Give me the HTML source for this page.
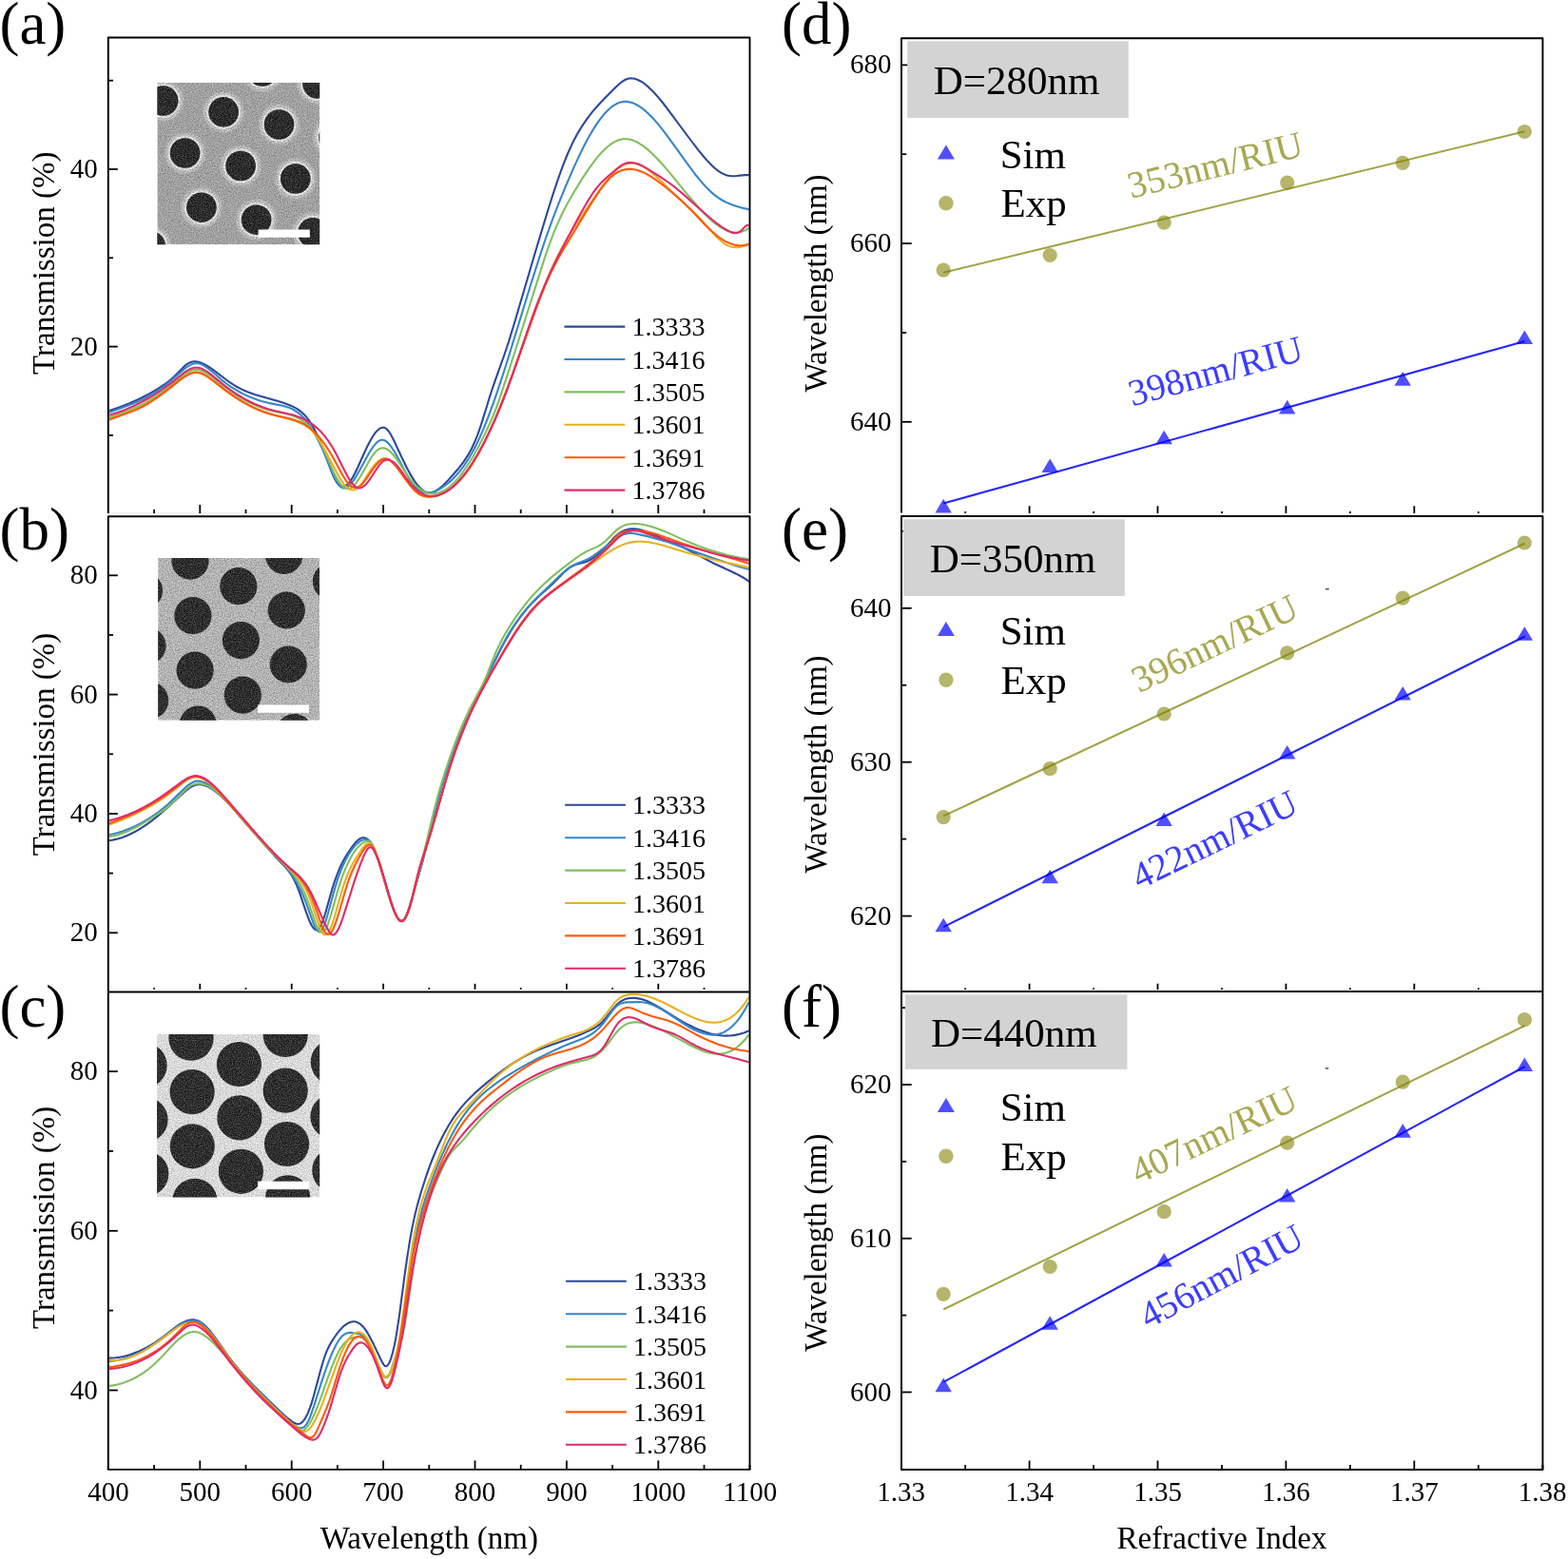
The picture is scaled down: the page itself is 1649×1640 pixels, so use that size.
<!DOCTYPE html>
<html><head><meta charset="utf-8"><title>Figure</title>
<style>html,body{margin:0;padding:0;background:#fff;}svg{display:block;}</style>
</head><body>
<svg xmlns="http://www.w3.org/2000/svg" width="1649" height="1640" viewBox="0 0 1649 1640" font-family="'Liberation Serif','Times New Roman',serif">
<defs>
<filter id="grain" x="0" y="0" width="100%" height="100%">
 <feTurbulence type="fractalNoise" baseFrequency="0.85" numOctaves="2" seed="3" result="n"/>
 <feColorMatrix in="n" type="matrix" values="0 0 0 0 0  0 0 0 0 0  0 0 0 0 0  0 0 0 1.3 -0.35" result="a"/>
 <feComposite in="a" in2="SourceGraphic" operator="in"/>
</filter>
<filter id="grainw" x="0" y="0" width="100%" height="100%">
 <feTurbulence type="fractalNoise" baseFrequency="0.9" numOctaves="2" seed="7" result="n"/>
 <feColorMatrix in="n" type="matrix" values="0 0 0 0 1  0 0 0 0 1  0 0 0 0 1  0 0 0 1.3 -0.45" result="a"/>
 <feComposite in="a" in2="SourceGraphic" operator="in"/>
</filter>
<filter id="soft" x="-20%" y="-20%" width="140%" height="140%"><feGaussianBlur stdDeviation="0.7"/></filter>
<filter id="halo" x="-30%" y="-30%" width="160%" height="160%"><feGaussianBlur stdDeviation="1.2"/></filter>

<clipPath id="ic0"><rect x="165.4" y="87.0" width="170.8" height="170.3"/></clipPath>
<clipPath id="ic1"><rect x="166.2" y="587.0" width="169.8" height="170.7"/></clipPath>
<clipPath id="ic2"><rect x="165.1" y="1088.1" width="171.1" height="171.3"/></clipPath>
<clipPath id="clipL0"><rect x="114.8" y="40.4" width="673" height="499"/></clipPath>
<clipPath id="clipL1"><rect x="114.8" y="544.2" width="673" height="498.5"/></clipPath>
<clipPath id="clipL2"><rect x="114.8" y="1044.4" width="673" height="500.1"/></clipPath>
</defs>
<rect width="1649" height="1640" fill="#fff"/>
<line x1="113.8" y1="539.7" x2="788.5" y2="539.7" stroke="#eeeeee" stroke-width="1" />
<g clip-path="url(#clipL0)" fill="none" stroke-width="2.1" stroke-linejoin="round" stroke-linecap="round">
<path d="M113.8,432.5 L125.3,428.5 L136.3,424.2 L146.3,419.7 L156.3,414.6 L162.3,411.2 L167.8,407.8 L172.8,404.5 L176.8,401.6 L180.3,398.7 L183.3,396.0 L193.3,385.9 L195.3,384.1 L197.3,382.7 L199.8,381.3 L201.3,380.8 L202.8,380.4 L204.3,380.3 L205.8,380.3 L208.8,380.8 L211.3,381.6 L213.8,382.6 L216.3,383.9 L219.3,385.7 L225.3,389.9 L237.3,399.0 L242.3,402.7 L247.8,406.2 L253.8,409.4 L260.3,412.2 L267.8,415.0 L274.8,417.1 L293.3,422.3 L298.8,424.1 L303.3,425.7 L307.3,427.4 L310.8,429.1 L314.3,431.4 L317.3,433.7 L320.8,437.1 L324.3,441.4 L327.8,446.6 L330.8,451.9 L334.3,459.2 L337.8,467.4 L341.3,476.4 L348.3,495.2 L350.8,501.3 L352.8,505.2 L354.3,507.5 L355.8,509.3 L356.8,510.3 L357.8,511.0 L358.8,511.4 L360.3,511.7 L361.3,511.7 L362.8,511.3 L363.8,510.8 L365.3,509.6 L366.8,508.1 L368.3,506.3 L370.8,502.4 L373.3,497.8 L376.3,491.5 L382.8,477.0 L385.8,470.6 L388.8,464.7 L391.8,459.5 L394.8,455.2 L396.3,453.4 L397.8,452.0 L399.3,450.8 L400.8,450.1 L402.3,449.8 L403.3,449.8 L404.3,450.0 L405.3,450.4 L406.8,451.5 L408.8,453.7 L410.8,456.8 L414.3,463.5 L422.8,481.8 L428.3,493.0 L430.8,497.6 L433.3,501.9 L435.8,505.9 L438.3,509.4 L440.8,512.3 L442.8,514.3 L444.8,515.9 L446.8,517.1 L448.8,517.9 L451.3,518.2 L453.3,518.1 L455.8,517.5 L457.8,516.6 L460.3,515.1 L462.8,513.3 L465.8,510.7 L468.8,507.8 L471.8,504.6 L478.3,497.3 L482.3,492.7 L487.3,486.2 L491.8,479.4 L495.8,472.2 L499.3,464.7 L502.3,457.3 L504.8,450.2 L507.8,440.9 L514.3,419.7 L517.3,410.3 L520.8,400.1 L530.3,373.5 L534.8,360.0 L541.3,338.8 L562.8,265.7 L575.3,224.3 L580.3,208.3 L584.8,194.6 L588.8,183.0 L592.8,172.1 L597.3,161.0 L602.3,150.1 L607.3,140.6 L612.3,132.3 L617.8,124.3 L623.8,116.6 L630.8,108.7 L638.8,100.4 L647.3,92.0 L651.3,88.3 L654.8,85.5 L656.8,84.3 L658.3,83.5 L659.8,83.0 L661.8,82.5 L663.3,82.4 L665.3,82.5 L667.3,82.8 L669.3,83.4 L671.3,84.2 L673.3,85.2 L677.3,87.7 L681.8,91.4 L686.8,96.3 L691.8,101.9 L697.3,108.5 L703.3,116.3 L725.3,146.0 L734.8,158.4 L739.8,164.5 L744.3,169.6 L748.3,173.7 L751.8,177.0 L755.8,180.1 L759.3,182.3 L762.8,183.9 L765.8,184.8 L768.8,185.2 L771.8,185.2 L774.8,185.0 L783.3,184.1 L785.8,184.0 L788.0,184.1" stroke="#2c489a"/>
<path d="M113.8,434.3 L130.8,428.1 L139.3,424.7 L147.8,421.0 L155.3,417.2 L160.3,414.3 L164.8,411.5 L169.3,408.5 L173.8,405.3 L177.8,402.2 L181.8,398.8 L193.3,388.6 L195.8,386.6 L197.8,385.3 L200.8,383.6 L203.8,382.5 L206.3,382.1 L207.8,382.2 L209.3,382.5 L211.3,383.0 L213.3,383.9 L215.3,385.0 L217.3,386.3 L221.8,389.8 L232.8,399.3 L238.8,404.0 L242.8,406.8 L247.3,409.7 L251.3,412.0 L255.8,414.4 L260.3,416.5 L265.3,418.6 L269.8,420.3 L274.8,421.9 L283.3,424.1 L297.3,426.8 L302.8,428.4 L306.3,429.8 L309.3,431.3 L312.3,433.3 L315.3,435.6 L317.3,437.5 L319.3,439.5 L322.8,443.7 L326.8,449.4 L330.8,456.0 L334.8,463.5 L339.3,472.9 L343.3,482.2 L349.8,498.4 L352.3,503.8 L354.3,507.4 L355.8,509.6 L357.8,511.7 L359.3,512.8 L360.3,513.2 L361.3,513.4 L362.3,513.4 L363.8,513.0 L364.8,512.6 L366.3,511.6 L367.8,510.2 L369.3,508.6 L372.3,504.6 L375.3,499.8 L378.3,494.5 L387.3,478.0 L389.8,473.8 L392.3,470.1 L395.3,466.4 L397.8,464.2 L399.3,463.3 L400.3,463.0 L401.3,462.8 L402.3,462.7 L403.3,462.9 L404.3,463.2 L405.3,463.7 L406.8,464.8 L409.3,467.3 L411.8,470.5 L414.3,474.3 L416.8,478.5 L426.3,496.3 L430.3,503.3 L433.8,508.6 L435.8,511.2 L437.3,512.8 L439.3,514.6 L441.3,516.1 L443.3,517.2 L445.8,518.0 L448.3,518.5 L450.8,518.5 L453.3,518.2 L455.8,517.5 L458.8,516.4 L461.8,514.8 L465.3,512.7 L468.8,510.2 L472.3,507.4 L475.3,504.7 L478.8,501.1 L481.8,497.8 L484.8,494.1 L487.8,490.1 L490.8,485.6 L493.3,481.7 L496.3,476.5 L498.8,471.9 L501.8,466.0 L504.3,460.7 L508.8,450.3 L513.8,437.7 L518.8,424.1 L523.8,409.6 L528.8,394.5 L534.8,375.6 L556.8,303.8 L566.8,272.1 L572.3,255.5 L577.3,241.1 L581.8,228.8 L586.8,215.8 L594.8,196.1 L602.8,177.6 L609.8,162.4 L613.3,155.3 L616.8,148.6 L620.3,142.2 L623.3,137.1 L626.3,132.4 L629.3,127.9 L632.3,123.9 L635.3,120.2 L638.3,116.9 L640.8,114.5 L644.8,111.3 L646.8,110.1 L648.8,109.0 L650.8,108.1 L652.8,107.5 L654.8,107.1 L656.8,106.9 L658.8,106.9 L660.8,107.2 L662.8,107.6 L665.3,108.3 L667.3,109.1 L669.8,110.3 L674.3,113.2 L678.8,116.7 L683.3,120.9 L687.8,125.6 L692.8,131.4 L697.3,137.1 L702.8,144.3 L722.8,172.2 L730.8,183.0 L735.3,188.6 L739.3,193.3 L743.3,197.6 L746.8,201.1 L750.8,204.6 L754.8,207.7 L759.3,210.5 L763.8,212.9 L768.8,215.0 L773.8,216.7 L779.8,218.4 L788.0,220.4" stroke="#3686c8"/>
<path d="M113.8,439.6 L119.3,437.5 L138.8,430.3 L145.3,427.6 L150.8,424.9 L154.8,422.7 L159.3,420.0 L163.8,417.1 L168.8,413.6 L178.3,406.5 L191.8,395.5 L194.3,393.7 L196.8,392.0 L200.3,390.2 L202.3,389.5 L203.8,389.1 L205.3,388.9 L206.8,388.8 L209.8,389.2 L211.8,389.8 L213.8,390.7 L215.8,391.7 L218.3,393.3 L222.8,396.5 L235.3,406.5 L242.8,412.0 L247.8,415.3 L252.3,418.1 L257.3,420.9 L261.8,423.3 L266.3,425.4 L270.8,427.3 L275.3,429.0 L279.8,430.5 L286.8,432.4 L301.3,435.3 L304.8,436.3 L307.8,437.3 L311.3,438.7 L314.8,440.5 L317.8,442.3 L320.8,444.6 L324.3,447.7 L327.8,451.4 L331.3,456.0 L334.3,460.5 L337.3,465.9 L339.8,470.9 L349.8,494.3 L351.8,498.6 L353.8,502.4 L356.3,506.6 L358.3,509.4 L360.8,512.0 L362.8,513.3 L364.3,513.9 L365.3,514.1 L366.3,514.1 L367.3,513.9 L368.3,513.6 L369.8,512.7 L372.3,510.6 L374.8,507.6 L377.8,503.3 L380.8,498.3 L388.8,484.0 L391.3,480.0 L393.3,477.2 L395.8,474.4 L397.8,472.8 L398.8,472.2 L400.3,471.6 L401.3,471.4 L402.8,471.3 L403.8,471.4 L405.3,471.8 L407.8,473.0 L410.3,474.9 L412.8,477.5 L415.3,480.5 L418.3,484.6 L427.8,498.9 L431.8,504.5 L435.8,509.2 L437.8,511.3 L440.3,513.4 L442.8,515.3 L445.3,516.8 L447.8,517.9 L450.8,518.8 L453.3,519.2 L455.8,519.3 L458.3,519.1 L461.3,518.4 L463.8,517.5 L466.8,516.1 L469.8,514.3 L472.8,512.0 L475.3,509.8 L478.3,506.9 L481.3,503.6 L484.3,500.0 L487.3,496.0 L490.3,491.7 L496.3,482.2 L502.8,470.7 L509.3,457.9 L514.3,447.3 L518.3,438.2 L521.8,429.4 L525.3,419.7 L530.3,404.7 L542.8,366.0 L572.3,272.9 L575.8,262.5 L578.8,254.1 L581.8,246.2 L584.8,238.9 L590.3,226.7 L593.3,220.6 L596.8,214.0 L603.8,201.7 L612.3,187.9 L619.8,176.7 L626.3,167.9 L629.8,163.6 L632.8,160.3 L635.8,157.2 L638.8,154.5 L642.8,151.4 L646.8,148.9 L648.8,148.0 L650.8,147.2 L652.8,146.7 L654.8,146.3 L656.8,146.2 L658.8,146.2 L660.8,146.4 L662.8,146.8 L666.8,148.1 L668.8,149.0 L671.3,150.3 L675.8,153.1 L680.3,156.6 L685.3,161.0 L690.8,166.5 L696.3,172.5 L702.3,179.4 L724.8,206.8 L734.3,217.8 L739.3,223.2 L744.3,228.3 L748.8,232.4 L752.8,235.7 L757.8,239.2 L762.3,241.7 L764.8,242.8 L766.8,243.5 L769.3,244.1 L771.3,244.4 L773.8,244.6 L775.8,244.5 L777.8,244.3 L779.8,243.8 L781.8,243.1 L783.8,242.3 L785.8,241.2 L788.0,239.7" stroke="#80bf5e"/>
<path d="M113.8,441.5 L119.8,439.2 L138.8,432.3 L145.3,429.5 L150.8,426.8 L154.8,424.7 L159.3,422.0 L163.8,419.1 L168.3,416.0 L177.8,409.0 L191.3,398.2 L193.8,396.3 L196.3,394.7 L199.8,392.9 L201.8,392.1 L203.3,391.7 L204.8,391.5 L206.3,391.4 L207.8,391.5 L209.3,391.7 L211.3,392.3 L213.3,393.2 L215.3,394.2 L217.8,395.7 L222.3,399.0 L234.8,409.1 L242.3,414.5 L246.8,417.5 L251.8,420.6 L256.8,423.5 L261.8,426.1 L266.3,428.3 L271.3,430.5 L275.8,432.3 L280.8,434.2 L288.3,436.5 L304.8,441.1 L312.3,443.6 L316.3,445.2 L319.8,446.9 L322.3,448.3 L324.8,450.1 L327.3,452.3 L330.3,455.7 L333.3,459.8 L336.3,464.4 L339.3,469.4 L342.3,474.8 L354.8,498.3 L357.3,502.7 L359.3,505.9 L361.3,508.8 L363.3,511.2 L365.3,513.2 L367.3,514.6 L369.3,515.4 L370.3,515.5 L371.8,515.5 L373.8,514.9 L374.8,514.4 L376.3,513.3 L378.3,511.3 L380.8,508.2 L383.3,504.6 L390.3,493.8 L392.8,490.4 L395.3,487.4 L397.8,485.0 L400.3,483.3 L401.8,482.7 L402.8,482.4 L404.8,482.3 L406.8,482.8 L409.3,484.0 L411.8,485.9 L414.3,488.4 L416.3,490.6 L418.8,493.8 L427.8,506.1 L431.8,511.3 L435.8,515.7 L437.8,517.6 L439.3,518.8 L441.3,520.1 L443.8,521.3 L445.8,521.9 L448.3,522.4 L450.8,522.5 L453.8,522.4 L456.8,522.0 L459.3,521.4 L462.3,520.5 L465.3,519.2 L468.3,517.7 L470.8,516.2 L473.8,514.1 L476.3,512.1 L479.3,509.4 L481.8,507.0 L484.8,503.8 L487.3,500.8 L490.3,497.0 L492.8,493.6 L498.3,485.3 L503.8,475.9 L509.3,465.5 L515.3,452.9 L521.3,439.2 L527.8,423.4 L534.3,406.6 L541.3,387.6 L561.3,330.7 L568.8,310.1 L572.8,299.7 L576.8,289.9 L580.3,281.9 L584.3,273.5 L590.3,261.9 L597.8,248.8 L605.8,236.0 L614.8,222.5 L629.8,201.1 L637.3,191.0 L640.8,186.7 L644.3,182.7 L647.3,179.7 L650.3,177.1 L653.8,174.7 L656.8,173.1 L659.8,172.2 L661.3,171.9 L663.3,171.7 L666.3,171.8 L669.8,172.6 L673.3,173.8 L677.3,175.9 L680.8,178.1 L684.8,181.1 L688.8,184.5 L693.3,188.6 L711.3,206.5 L726.8,220.7 L732.8,226.4 L738.8,232.7 L748.8,244.0 L752.8,248.4 L756.8,252.3 L760.8,255.5 L763.8,257.5 L766.8,258.9 L769.8,259.7 L772.8,260.1 L776.3,260.1 L779.8,259.6 L783.8,258.6 L788.0,257.1" stroke="#e6b120"/>
<path d="M113.8,441.9 L120.8,439.2 L133.8,434.6 L139.3,432.6 L144.8,430.2 L149.8,427.8 L153.3,425.9 L157.3,423.5 L165.8,417.8 L174.8,411.1 L189.8,399.3 L192.8,397.2 L195.3,395.6 L199.3,393.5 L201.3,392.7 L202.8,392.3 L205.8,391.9 L207.3,392.0 L209.3,392.3 L211.3,392.8 L213.8,393.8 L215.8,394.8 L218.3,396.3 L223.3,399.9 L236.8,410.4 L244.8,416.1 L249.8,419.4 L254.8,422.5 L259.8,425.4 L264.8,428.0 L269.3,430.1 L273.8,432.0 L278.3,433.8 L282.3,435.1 L289.3,437.0 L304.3,440.3 L307.8,441.2 L311.3,442.4 L314.8,443.7 L318.3,445.4 L321.8,447.5 L324.8,449.6 L328.8,452.8 L332.8,456.8 L336.8,461.3 L340.8,466.5 L344.8,472.3 L348.8,478.8 L352.3,485.0 L359.3,498.1 L362.8,504.0 L364.8,506.9 L366.8,509.3 L368.8,511.1 L370.3,512.1 L371.8,512.7 L372.8,512.9 L374.8,512.9 L376.8,512.3 L377.8,511.8 L379.3,510.7 L381.3,508.7 L383.8,505.7 L392.8,492.6 L395.3,489.4 L397.3,487.1 L399.8,484.8 L401.8,483.5 L403.8,482.7 L405.8,482.6 L407.8,483.0 L409.8,484.0 L411.8,485.5 L414.3,487.9 L416.3,490.2 L418.8,493.3 L427.8,505.9 L431.8,511.1 L435.8,515.6 L437.8,517.5 L439.8,519.0 L441.8,520.3 L444.3,521.4 L446.3,522.0 L448.8,522.4 L451.3,522.6 L454.3,522.4 L457.3,522.0 L459.8,521.4 L462.8,520.4 L465.3,519.3 L468.3,517.8 L470.8,516.3 L473.8,514.2 L476.3,512.2 L479.3,509.6 L481.8,507.1 L484.8,503.9 L487.3,501.0 L490.3,497.1 L492.8,493.7 L498.3,485.4 L503.8,476.0 L509.3,465.4 L515.3,452.8 L521.3,439.1 L527.3,424.5 L533.3,409.1 L540.3,390.3 L559.3,337.0 L566.3,318.0 L570.3,307.7 L573.8,299.1 L577.3,291.1 L580.3,284.7 L585.3,275.0 L591.8,263.5 L610.8,231.9 L624.8,209.3 L630.8,200.4 L635.8,193.7 L640.3,188.6 L642.8,186.1 L644.8,184.4 L646.8,182.9 L648.8,181.6 L650.8,180.5 L652.8,179.6 L654.8,178.9 L656.8,178.4 L658.8,178.1 L660.8,177.9 L664.8,177.9 L666.8,178.2 L669.3,178.7 L673.8,180.2 L678.8,182.4 L684.8,185.8 L691.8,190.6 L700.8,197.5 L709.8,204.9 L716.3,210.7 L722.8,216.9 L727.8,222.1 L740.3,235.3 L746.3,241.3 L752.3,246.6 L755.3,249.0 L758.3,251.1 L762.3,253.6 L766.3,255.6 L770.3,257.1 L773.8,257.9 L777.3,258.3 L780.8,258.2 L784.3,257.7 L788.0,256.5" stroke="#fd5a06"/>
<path d="M113.8,437.1 L122.8,434.2 L131.8,430.9 L140.3,427.2 L148.8,423.0 L154.3,420.0 L159.8,416.8 L165.3,413.4 L170.3,410.0 L179.8,403.1 L192.8,392.7 L197.3,389.6 L200.8,387.8 L203.8,386.9 L205.3,386.7 L206.8,386.7 L208.3,386.8 L209.8,387.1 L211.8,387.7 L213.8,388.6 L217.8,390.9 L222.8,394.6 L235.3,404.9 L242.8,410.5 L247.8,413.9 L252.8,417.0 L257.8,419.9 L262.8,422.5 L267.3,424.7 L272.3,426.8 L276.8,428.5 L281.8,430.2 L289.3,432.3 L305.8,436.0 L309.8,437.1 L313.8,438.5 L317.8,440.1 L321.8,442.0 L325.8,444.4 L329.3,446.9 L333.8,450.6 L337.8,454.6 L341.8,459.2 L345.3,463.9 L348.8,469.3 L352.3,475.3 L355.3,481.0 L362.8,495.9 L365.3,500.6 L367.3,504.0 L369.3,507.0 L371.3,509.6 L373.3,511.6 L375.3,512.9 L376.3,513.3 L377.3,513.5 L378.3,513.5 L379.3,513.3 L381.3,512.4 L383.3,510.9 L385.3,508.9 L387.8,505.8 L390.3,502.2 L396.8,492.1 L398.8,489.4 L400.3,487.6 L402.3,485.7 L404.3,484.4 L406.3,483.7 L408.3,483.6 L410.3,484.1 L412.3,485.1 L414.3,486.5 L416.3,488.4 L418.3,490.7 L420.8,493.8 L428.8,505.0 L432.3,509.6 L434.3,511.8 L436.3,513.8 L438.3,515.6 L440.3,517.1 L442.8,518.7 L445.3,520.0 L447.8,520.9 L450.3,521.5 L452.8,521.8 L455.8,521.7 L458.3,521.4 L461.3,520.7 L463.8,519.8 L466.8,518.5 L469.3,517.1 L472.3,515.1 L474.8,513.2 L477.8,510.6 L480.8,507.7 L483.8,504.5 L486.8,500.9 L489.8,497.1 L492.8,493.0 L495.8,488.5 L501.8,478.8 L507.8,468.1 L513.3,457.3 L518.8,445.6 L523.8,434.2 L528.8,421.9 L533.3,410.1 L537.8,397.6 L555.3,346.4 L562.3,326.7 L566.3,316.2 L570.8,305.1 L575.3,294.6 L579.8,284.6 L587.3,269.0 L595.8,252.4 L609.3,227.1 L617.3,212.9 L622.8,204.2 L625.3,200.6 L627.8,197.3 L630.3,194.3 L632.8,191.6 L638.3,186.5 L650.3,176.3 L653.3,174.1 L656.3,172.4 L659.3,171.4 L660.8,171.1 L662.8,171.0 L666.3,171.2 L668.3,171.7 L670.3,172.3 L672.8,173.2 L675.8,174.6 L682.3,178.3 L695.3,186.6 L705.3,193.5 L711.3,198.2 L717.8,203.6 L739.8,223.3 L748.8,231.0 L753.3,234.5 L757.8,237.8 L761.8,240.5 L765.8,242.8 L768.3,244.1 L770.8,244.9 L773.3,245.2 L775.3,245.0 L777.3,244.2 L778.8,243.2 L780.3,241.8 L783.3,238.6 L784.8,237.4 L786.3,236.7 L787.3,236.7 L788.0,237.0" stroke="#e22a6c"/>
</g>
<path d="M113.8,540.0 V39.5 H788.5 V540.0" fill="none" stroke="#000" stroke-width="1.9" stroke-linejoin="round"/>
<line x1="113.8" y1="364.6" x2="123.8" y2="364.6" stroke="#000" stroke-width="1.8" />
<text x="102.8" y="373.6" font-size="29" text-anchor="end" fill="#000" >20</text>
<line x1="113.8" y1="178.0" x2="123.8" y2="178.0" stroke="#000" stroke-width="1.8" />
<text x="102.8" y="187.0" font-size="29" text-anchor="end" fill="#000" >40</text>
<line x1="113.8" y1="457.9" x2="119.0" y2="457.9" stroke="#000" stroke-width="1.8" />
<line x1="113.8" y1="271.3" x2="119.0" y2="271.3" stroke="#000" stroke-width="1.8" />
<line x1="113.8" y1="84.7" x2="119.0" y2="84.7" stroke="#000" stroke-width="1.8" />
<line x1="162.1" y1="540.0" x2="162.1" y2="536.0" stroke="#000" stroke-width="1.8" />
<line x1="210.3" y1="540.0" x2="210.3" y2="531.0" stroke="#000" stroke-width="1.8" />
<line x1="258.5" y1="540.0" x2="258.5" y2="536.0" stroke="#000" stroke-width="1.8" />
<line x1="306.7" y1="540.0" x2="306.7" y2="531.0" stroke="#000" stroke-width="1.8" />
<line x1="354.9" y1="540.0" x2="354.9" y2="536.0" stroke="#000" stroke-width="1.8" />
<line x1="403.1" y1="540.0" x2="403.1" y2="531.0" stroke="#000" stroke-width="1.8" />
<line x1="451.3" y1="540.0" x2="451.3" y2="536.0" stroke="#000" stroke-width="1.8" />
<line x1="499.5" y1="540.0" x2="499.5" y2="531.0" stroke="#000" stroke-width="1.8" />
<line x1="547.7" y1="540.0" x2="547.7" y2="536.0" stroke="#000" stroke-width="1.8" />
<line x1="595.9" y1="540.0" x2="595.9" y2="531.0" stroke="#000" stroke-width="1.8" />
<line x1="644.1" y1="540.0" x2="644.1" y2="536.0" stroke="#000" stroke-width="1.8" />
<line x1="692.3" y1="540.0" x2="692.3" y2="531.0" stroke="#000" stroke-width="1.8" />
<line x1="740.5" y1="540.0" x2="740.5" y2="536.0" stroke="#000" stroke-width="1.8" />
<g clip-path="url(#clipL1)" fill="none" stroke-width="2.1" stroke-linejoin="round" stroke-linecap="round">
<path d="M114.4,884.1 L117.9,883.7 L121.9,882.9 L125.4,882.0 L129.4,880.7 L132.9,879.3 L136.9,877.5 L140.9,875.5 L144.9,873.3 L149.9,870.2 L154.9,866.8 L160.4,862.8 L165.9,858.4 L171.4,853.8 L176.9,848.9 L192.9,833.9 L195.9,831.4 L198.9,829.1 L200.9,827.9 L202.9,826.8 L204.9,826.0 L206.4,825.6 L208.4,825.3 L210.4,825.3 L212.4,825.5 L214.4,825.9 L216.9,826.8 L219.4,827.9 L222.4,829.6 L225.4,831.7 L228.4,834.0 L231.9,837.0 L235.4,840.2 L238.9,843.7 L243.9,848.9 L249.9,855.6 L271.4,880.7 L280.9,891.5 L289.4,900.9 L299.4,911.3 L303.4,916.1 L305.4,918.9 L307.4,922.0 L309.4,925.7 L311.4,929.8 L312.9,933.4 L314.9,938.6 L321.9,959.4 L324.9,967.4 L326.4,970.8 L327.9,973.7 L329.4,976.0 L330.9,977.5 L331.9,978.1 L332.9,978.3 L333.9,978.0 L334.9,977.3 L336.4,975.4 L337.4,973.6 L338.4,971.4 L339.9,967.6 L341.9,961.5 L349.4,935.1 L352.4,925.8 L354.4,920.3 L356.4,915.3 L358.4,910.8 L360.9,905.8 L363.4,901.3 L366.4,896.5 L369.9,891.4 L372.9,887.4 L375.4,884.7 L377.4,883.0 L379.4,881.8 L381.4,881.2 L382.9,881.2 L384.4,881.6 L385.9,882.4 L387.4,883.7 L388.9,885.4 L390.4,887.5 L391.9,890.1 L393.4,893.1 L395.9,899.1 L398.9,907.8 L401.4,915.9 L409.4,943.4 L411.9,951.2 L413.9,956.7 L416.4,962.5 L417.9,965.1 L418.9,966.5 L419.9,967.6 L420.9,968.3 L421.9,968.6 L422.9,968.5 L423.9,968.0 L424.9,967.0 L425.9,965.7 L426.9,963.9 L428.9,959.2 L431.4,951.8 L444.4,906.1 L447.9,892.3 L457.4,852.9 L460.4,841.4 L463.9,828.8 L468.4,813.9 L472.9,800.3 L477.9,786.5 L483.4,772.6 L489.9,757.7 L497.4,741.8 L523.4,689.0 L528.4,679.3 L532.4,671.9 L535.9,665.9 L539.9,659.5 L543.4,654.3 L547.4,648.8 L551.4,643.6 L555.4,638.9 L559.4,634.4 L563.9,629.9 L568.4,625.6 L580.4,614.9 L583.9,611.5 L592.9,602.3 L595.9,599.6 L598.4,597.6 L600.9,596.0 L603.9,594.5 L606.9,593.5 L613.9,591.7 L616.9,590.7 L619.9,589.4 L623.4,587.4 L627.4,584.6 L631.9,580.6 L635.9,576.5 L644.9,566.6 L647.4,564.1 L649.9,562.0 L652.9,559.9 L656.4,558.1 L659.9,557.0 L661.9,556.6 L663.9,556.3 L667.4,556.3 L670.9,556.7 L674.4,557.5 L678.4,558.7 L685.4,561.4 L710.4,572.1 L717.4,575.3 L723.9,578.5 L743.9,589.1 L750.9,592.7 L756.4,595.3 L768.9,601.0 L774.4,603.7 L781.4,607.5 L784.9,609.7 L788.0,611.9" stroke="#2c489a"/>
<path d="M114.4,878.3 L119.4,877.2 L123.9,876.0 L128.9,874.4 L133.4,872.8 L137.9,871.0 L142.4,869.0 L146.9,866.7 L151.4,864.2 L156.9,860.9 L161.9,857.6 L166.9,854.0 L171.9,850.0 L176.4,846.2 L180.9,842.1 L194.4,828.9 L196.9,826.7 L199.4,824.8 L201.4,823.6 L202.9,822.8 L204.4,822.2 L205.9,821.8 L207.4,821.6 L208.9,821.6 L210.4,821.8 L212.4,822.2 L214.4,822.9 L216.9,824.2 L219.4,825.7 L221.9,827.5 L227.4,832.0 L233.9,838.3 L241.9,846.9 L256.9,864.4 L262.9,871.1 L270.4,879.3 L293.4,903.9 L299.4,910.6 L303.4,915.5 L306.9,920.3 L309.9,924.8 L312.9,930.0 L315.9,935.7 L318.9,942.3 L321.4,948.4 L323.4,953.8 L327.9,966.7 L330.4,973.1 L331.9,976.2 L332.9,977.8 L333.9,979.1 L334.9,979.9 L335.9,980.2 L336.4,980.2 L337.4,979.7 L337.9,979.2 L339.4,976.8 L340.9,973.3 L342.4,969.1 L344.4,962.7 L351.9,935.5 L354.9,925.7 L356.9,919.9 L358.9,914.7 L360.9,910.0 L362.9,905.7 L365.4,901.0 L367.9,896.9 L370.4,893.3 L373.4,889.6 L375.9,887.1 L378.4,885.1 L380.9,883.8 L382.9,883.3 L384.4,883.2 L385.9,883.5 L387.4,884.1 L388.4,884.8 L389.4,885.7 L390.4,887.0 L391.4,888.5 L392.4,890.4 L394.9,896.3 L397.9,905.0 L400.9,914.7 L409.4,943.4 L411.9,951.1 L414.4,957.9 L416.9,963.5 L417.9,965.2 L418.9,966.7 L420.4,968.2 L421.4,968.7 L422.4,968.8 L423.4,968.6 L424.4,967.9 L425.4,966.8 L426.9,964.3 L428.9,959.6 L431.4,952.0 L444.9,904.3 L448.4,890.4 L457.4,853.0 L460.4,841.4 L463.9,828.8 L468.4,813.9 L472.9,800.2 L477.9,786.4 L482.9,773.7 L488.9,759.9 L495.4,746.0 L509.9,716.7 L524.4,686.6 L528.4,678.7 L532.4,671.3 L535.9,665.3 L539.4,659.7 L542.9,654.5 L546.9,649.0 L550.9,644.0 L554.9,639.2 L559.4,634.3 L563.9,629.6 L569.4,624.2 L590.4,604.0 L594.9,600.0 L598.4,597.3 L600.9,595.7 L603.9,594.1 L606.9,592.8 L615.9,589.2 L618.4,588.0 L620.9,586.6 L624.4,584.4 L628.4,581.6 L643.4,569.7 L648.9,565.8 L651.9,564.0 L654.9,562.6 L657.4,561.7 L659.9,561.2 L661.9,561.0 L664.4,561.0 L666.9,561.3 L670.4,561.9 L681.9,564.4 L693.9,567.7 L703.4,570.6 L713.9,574.2 L749.4,586.9 L762.9,591.6 L775.9,595.7 L788.0,599.0" stroke="#3686c8"/>
<path d="M114.4,879.9 L118.9,879.4 L123.4,878.4 L128.4,876.8 L133.4,874.9 L138.9,872.4 L144.4,869.5 L150.4,866.1 L157.9,861.6 L169.4,854.2 L173.4,851.4 L177.4,848.3 L180.9,845.3 L183.9,842.4 L192.4,833.4 L195.4,830.4 L198.4,828.0 L200.9,826.4 L203.9,825.1 L205.4,824.7 L207.4,824.4 L208.9,824.3 L210.9,824.4 L214.4,825.1 L216.9,826.0 L219.4,827.1 L221.9,828.6 L224.4,830.2 L227.4,832.5 L230.4,835.0 L236.9,841.2 L241.9,846.5 L247.9,853.2 L268.9,878.1 L277.4,887.8 L284.4,895.1 L300.4,910.8 L304.9,915.6 L308.4,919.7 L311.4,923.8 L314.4,928.3 L317.4,933.6 L319.9,938.6 L322.4,944.4 L324.9,950.8 L330.4,967.2 L332.4,972.7 L333.9,976.1 L334.9,978.0 L335.9,979.4 L336.9,980.3 L337.4,980.6 L338.4,980.8 L339.4,980.5 L340.4,979.8 L341.4,978.7 L342.4,977.2 L344.4,973.1 L345.9,969.2 L347.9,963.0 L355.4,936.2 L358.4,926.6 L360.4,921.0 L362.4,915.9 L364.4,911.2 L366.9,906.0 L369.4,901.3 L371.9,897.2 L374.4,893.6 L376.4,891.2 L378.9,888.7 L380.9,887.1 L383.4,885.6 L385.4,885.0 L386.9,885.0 L387.9,885.2 L388.9,885.8 L389.9,886.6 L390.9,887.7 L391.9,889.1 L393.9,893.0 L395.9,898.0 L397.9,904.0 L400.4,912.4 L408.4,940.9 L410.9,948.8 L413.4,955.8 L414.9,959.4 L416.4,962.5 L417.9,965.0 L418.9,966.4 L420.4,967.8 L421.4,968.4 L422.4,968.6 L423.4,968.4 L424.4,967.8 L425.4,966.7 L426.9,964.2 L428.9,959.5 L430.9,953.3 L433.4,944.4 L442.9,908.5 L446.4,894.4 L455.9,854.7 L458.9,843.1 L461.9,832.3 L466.9,815.7 L472.4,799.0 L477.9,783.6 L483.4,769.5 L488.4,757.8 L493.4,747.1 L497.4,739.3 L504.9,725.6 L508.9,717.5 L511.9,710.5 L518.4,693.7 L521.4,686.4 L524.9,678.8 L528.9,671.1 L532.9,664.1 L537.4,656.8 L541.4,650.7 L545.9,644.3 L550.4,638.3 L554.9,632.6 L559.9,626.8 L564.9,621.5 L572.9,613.6 L581.9,605.6 L592.4,597.1 L605.4,587.3 L610.9,583.5 L615.4,580.8 L618.9,579.1 L627.9,575.1 L630.4,573.8 L632.9,572.2 L634.9,570.7 L637.4,568.4 L644.9,560.9 L647.4,558.5 L649.9,556.4 L651.9,555.1 L654.4,553.6 L656.9,552.6 L659.4,551.8 L662.4,551.2 L666.9,550.9 L669.4,551.0 L672.4,551.3 L678.4,552.3 L684.9,553.9 L690.4,555.7 L696.4,558.0 L703.4,560.9 L719.4,568.1 L726.9,571.3 L736.4,575.0 L745.4,578.2 L756.4,581.6 L766.9,584.4 L777.4,586.6 L788.0,588.3" stroke="#80bf5e"/>
<path d="M114.4,867.8 L127.9,862.5 L138.9,857.7 L149.4,852.6 L158.9,847.5 L166.9,842.6 L174.4,837.6 L181.9,832.0 L193.4,822.8 L196.4,820.7 L198.9,819.3 L201.9,818.0 L203.4,817.6 L204.9,817.4 L206.4,817.3 L207.9,817.4 L210.9,818.2 L212.4,818.7 L214.4,819.7 L217.9,822.0 L221.9,825.3 L226.4,829.6 L233.9,837.8 L265.9,873.9 L278.4,887.6 L286.4,896.1 L293.9,903.8 L309.9,919.3 L312.4,922.0 L314.4,924.4 L316.9,927.8 L319.4,931.7 L321.9,936.2 L323.9,940.4 L325.9,945.2 L327.9,950.5 L333.9,969.2 L335.9,974.9 L337.4,978.5 L338.4,980.3 L339.4,981.8 L340.4,982.8 L341.4,983.3 L342.4,983.3 L343.4,982.9 L344.4,982.1 L345.4,980.8 L346.4,979.1 L348.4,974.7 L349.9,970.6 L351.9,964.4 L358.9,939.5 L361.9,929.8 L363.4,925.5 L365.4,920.3 L368.9,912.6 L371.4,907.8 L373.9,903.5 L377.9,897.2 L380.9,892.8 L382.9,890.2 L384.4,888.7 L385.9,887.6 L387.4,887.2 L388.4,887.2 L389.4,887.6 L390.4,888.3 L391.4,889.5 L392.4,891.0 L393.4,893.0 L395.4,897.7 L397.4,903.3 L399.9,911.1 L407.9,938.2 L410.9,947.9 L413.4,955.2 L415.9,961.5 L417.9,965.5 L418.9,967.1 L419.9,968.3 L420.9,969.1 L421.9,969.5 L422.4,969.5 L423.4,969.2 L423.9,968.9 L424.9,968.0 L425.9,966.7 L426.9,964.9 L428.4,961.6 L430.4,956.0 L431.9,951.0 L433.4,945.4 L438.9,922.7 L441.4,913.3 L443.4,906.6 L450.4,884.5 L454.9,869.7 L466.9,827.8 L470.9,814.3 L475.4,800.2 L480.4,785.8 L485.4,772.5 L490.4,760.3 L494.4,751.2 L498.4,742.6 L502.4,734.5 L506.9,725.7 L511.4,717.4 L516.9,707.6 L531.4,682.7 L540.9,667.4 L545.4,660.6 L549.4,654.9 L553.4,649.5 L557.4,644.6 L560.9,640.5 L564.9,636.3 L569.4,631.9 L573.9,627.9 L578.9,623.8 L584.4,619.6 L597.4,610.3 L637.4,582.7 L645.4,577.7 L648.9,575.8 L651.9,574.4 L655.4,572.9 L658.4,571.8 L661.4,571.0 L664.4,570.4 L669.9,569.7 L672.9,569.7 L675.9,569.7 L681.9,570.3 L688.4,571.5 L697.4,573.7 L720.4,580.7 L738.4,585.7 L759.9,590.9 L788.0,597.1" stroke="#e6b120"/>
<path d="M114.4,866.5 L125.9,862.1 L136.9,857.5 L146.9,852.7 L156.9,847.4 L165.4,842.4 L173.4,837.1 L181.4,831.3 L192.9,822.4 L195.9,820.3 L198.4,818.9 L200.4,818.0 L201.9,817.4 L203.4,817.1 L204.9,816.8 L206.4,816.8 L207.9,816.9 L210.9,817.7 L212.4,818.3 L214.4,819.3 L217.9,821.5 L221.9,824.8 L226.4,829.1 L230.4,833.3 L236.9,840.6 L267.9,876.0 L280.4,889.7 L287.9,897.5 L294.9,904.5 L300.4,909.7 L308.9,917.2 L311.9,920.1 L314.4,922.6 L316.9,925.6 L319.4,928.9 L321.9,932.7 L324.4,937.1 L326.4,941.1 L328.9,946.8 L330.9,952.0 L336.9,969.7 L338.9,974.9 L340.4,978.3 L341.4,980.0 L342.4,981.4 L343.4,982.4 L343.9,982.7 L344.9,983.0 L345.9,982.8 L346.9,982.3 L348.4,980.6 L349.4,979.0 L350.4,977.1 L352.4,972.4 L354.9,965.1 L357.4,956.8 L362.9,937.7 L365.4,929.7 L367.9,922.7 L370.4,916.5 L372.9,911.0 L375.4,906.0 L378.4,900.6 L381.9,894.8 L383.9,891.9 L385.4,890.3 L386.9,889.2 L387.9,888.8 L388.9,888.8 L389.9,889.2 L390.9,890.0 L391.9,891.2 L392.9,892.7 L393.9,894.5 L396.4,900.2 L398.4,905.7 L400.9,913.6 L408.4,939.8 L410.9,948.1 L413.4,955.5 L415.4,960.6 L417.4,964.7 L418.4,966.3 L419.4,967.5 L420.4,968.4 L421.4,968.9 L422.4,969.0 L422.9,968.9 L423.4,968.7 L424.4,967.9 L425.4,966.8 L426.4,965.2 L428.4,961.1 L430.4,955.6 L431.9,950.6 L433.4,945.0 L438.9,922.2 L441.4,912.7 L443.4,906.1 L450.4,884.1 L454.4,871.0 L458.4,857.3 L466.9,827.3 L470.9,813.8 L475.4,799.6 L479.9,786.5 L484.9,773.1 L489.9,760.8 L493.9,751.6 L497.9,743.0 L501.9,734.8 L506.4,726.1 L510.9,717.7 L516.4,707.8 L530.9,682.8 L540.4,667.3 L544.9,660.4 L548.9,654.7 L552.9,649.3 L556.4,644.8 L559.9,640.7 L563.9,636.4 L567.4,633.0 L570.9,629.8 L578.4,623.5 L583.9,619.4 L599.9,607.7 L610.9,599.5 L621.9,591.0 L630.4,584.1 L633.9,581.0 L637.4,577.4 L640.4,573.9 L646.4,566.3 L648.4,564.2 L649.9,562.8 L651.9,561.4 L653.9,560.4 L656.4,559.5 L659.4,558.9 L662.4,558.4 L665.4,558.1 L668.4,558.1 L671.4,558.2 L674.4,558.4 L677.9,558.9 L681.4,559.6 L685.4,560.6 L689.9,561.8 L694.9,563.5 L716.4,571.3 L730.9,576.1 L744.4,580.2 L774.4,588.8 L788.0,592.9" stroke="#fd5a06"/>
<path d="M114.4,863.4 L124.9,860.4 L133.9,857.3 L142.4,853.7 L151.4,849.2 L159.9,844.3 L168.4,838.9 L178.4,831.9 L191.9,821.9 L195.4,819.6 L198.4,818.0 L201.9,816.7 L204.9,816.1 L207.9,816.3 L210.9,817.0 L214.4,818.5 L218.4,821.1 L222.9,824.7 L227.4,829.0 L232.4,834.3 L239.4,842.1 L269.9,877.4 L277.4,885.9 L283.9,892.9 L289.9,899.2 L295.9,905.1 L301.9,910.6 L312.4,919.6 L315.4,922.5 L318.4,925.9 L320.9,929.1 L322.9,932.0 L324.9,935.2 L326.9,938.8 L330.9,947.1 L338.9,965.7 L342.4,973.2 L344.4,977.1 L346.4,980.4 L347.9,982.3 L348.9,983.2 L349.4,983.4 L350.4,983.5 L351.4,983.2 L352.4,982.4 L353.4,981.3 L354.4,979.8 L355.4,978.1 L356.9,975.0 L358.9,970.0 L360.9,964.4 L372.4,927.9 L375.9,917.6 L378.9,909.4 L382.4,900.8 L384.9,895.6 L385.9,894.0 L386.9,892.7 L387.9,891.8 L388.9,891.3 L389.4,891.2 L390.4,891.5 L391.4,892.2 L392.4,893.4 L393.4,894.9 L394.4,896.8 L396.9,902.6 L398.9,908.1 L401.4,915.9 L410.9,947.9 L413.4,955.3 L415.4,960.4 L417.4,964.5 L418.4,966.2 L419.4,967.5 L420.4,968.4 L421.4,969.0 L422.4,969.1 L422.9,969.0 L423.4,968.8 L424.4,968.1 L425.4,966.9 L426.4,965.4 L428.4,961.2 L430.4,955.6 L431.9,950.6 L433.4,944.9 L438.4,923.9 L440.9,914.2 L442.9,907.6 L449.4,887.7 L453.9,873.1 L466.9,827.8 L470.9,814.3 L475.4,800.2 L479.9,787.1 L484.9,773.8 L489.9,761.5 L493.4,753.4 L497.4,744.7 L501.4,736.5 L505.9,727.7 L515.4,710.3 L529.9,685.2 L539.4,669.7 L543.9,662.8 L547.9,657.0 L551.9,651.5 L555.9,646.3 L559.4,642.2 L563.4,637.8 L566.9,634.3 L570.9,630.6 L574.9,627.1 L578.9,623.9 L586.4,618.2 L609.9,601.5 L616.9,596.2 L622.9,591.3 L627.9,587.0 L632.9,582.5 L637.9,577.7 L647.4,568.2 L652.4,563.8 L654.9,561.9 L657.4,560.4 L659.9,559.3 L662.4,558.6 L664.9,558.2 L667.4,558.1 L670.4,558.4 L673.4,559.0 L677.9,560.4 L690.4,564.9 L700.9,568.2 L748.4,581.5 L759.9,584.4 L769.9,586.6 L779.4,588.4 L788.0,589.6" stroke="#e22a6c"/>
</g>
<path d="M113.8,1043.5 V543.3 H788.5 V1043.5" fill="none" stroke="#000" stroke-width="1.9" stroke-linejoin="round"/>
<line x1="113.8" y1="981.3" x2="123.8" y2="981.3" stroke="#000" stroke-width="1.8" />
<text x="102.8" y="990.3" font-size="29" text-anchor="end" fill="#000" >20</text>
<line x1="113.8" y1="856.0" x2="123.8" y2="856.0" stroke="#000" stroke-width="1.8" />
<text x="102.8" y="865.0" font-size="29" text-anchor="end" fill="#000" >40</text>
<line x1="113.8" y1="730.6" x2="123.8" y2="730.6" stroke="#000" stroke-width="1.8" />
<text x="102.8" y="739.6" font-size="29" text-anchor="end" fill="#000" >60</text>
<line x1="113.8" y1="605.3" x2="123.8" y2="605.3" stroke="#000" stroke-width="1.8" />
<text x="102.8" y="614.3" font-size="29" text-anchor="end" fill="#000" >80</text>
<line x1="113.8" y1="918.6" x2="119.0" y2="918.6" stroke="#000" stroke-width="1.8" />
<line x1="113.8" y1="793.3" x2="119.0" y2="793.3" stroke="#000" stroke-width="1.8" />
<line x1="113.8" y1="668.0" x2="119.0" y2="668.0" stroke="#000" stroke-width="1.8" />
<line x1="162.1" y1="1040.8" x2="162.1" y2="1039.0" stroke="#000" stroke-width="1.8" />
<line x1="210.3" y1="1040.8" x2="210.3" y2="1034.8" stroke="#000" stroke-width="1.8" />
<line x1="258.5" y1="1040.8" x2="258.5" y2="1039.0" stroke="#000" stroke-width="1.8" />
<line x1="306.7" y1="1040.8" x2="306.7" y2="1034.8" stroke="#000" stroke-width="1.8" />
<line x1="354.9" y1="1040.8" x2="354.9" y2="1039.0" stroke="#000" stroke-width="1.8" />
<line x1="403.1" y1="1040.8" x2="403.1" y2="1034.8" stroke="#000" stroke-width="1.8" />
<line x1="451.3" y1="1040.8" x2="451.3" y2="1039.0" stroke="#000" stroke-width="1.8" />
<line x1="499.5" y1="1040.8" x2="499.5" y2="1034.8" stroke="#000" stroke-width="1.8" />
<line x1="547.7" y1="1040.8" x2="547.7" y2="1039.0" stroke="#000" stroke-width="1.8" />
<line x1="595.9" y1="1040.8" x2="595.9" y2="1034.8" stroke="#000" stroke-width="1.8" />
<line x1="644.1" y1="1040.8" x2="644.1" y2="1039.0" stroke="#000" stroke-width="1.8" />
<line x1="692.3" y1="1040.8" x2="692.3" y2="1034.8" stroke="#000" stroke-width="1.8" />
<line x1="740.5" y1="1040.8" x2="740.5" y2="1039.0" stroke="#000" stroke-width="1.8" />
<g clip-path="url(#clipL2)" fill="none" stroke-width="2.1" stroke-linejoin="round" stroke-linecap="round">
<path d="M114.4,1428.6 L117.9,1428.5 L121.9,1428.2 L125.4,1427.8 L129.4,1427.0 L132.9,1426.2 L136.9,1425.0 L140.9,1423.6 L144.9,1422.1 L149.4,1420.0 L153.9,1417.7 L158.4,1415.2 L162.9,1412.4 L170.9,1406.8 L185.4,1395.6 L188.9,1393.2 L191.9,1391.5 L195.9,1389.6 L197.9,1389.0 L199.9,1388.6 L201.9,1388.4 L203.9,1388.4 L205.9,1388.7 L207.4,1389.1 L208.9,1389.7 L210.4,1390.5 L213.4,1392.5 L216.4,1395.2 L219.9,1398.9 L222.9,1402.6 L225.9,1406.6 L239.4,1425.9 L245.9,1434.5 L250.4,1440.0 L255.4,1445.7 L260.4,1451.0 L266.4,1457.2 L293.9,1484.2 L298.9,1488.8 L302.9,1492.2 L307.4,1495.6 L308.9,1496.5 L310.4,1497.3 L311.9,1497.8 L313.4,1498.0 L314.9,1497.8 L315.9,1497.4 L317.4,1496.4 L318.4,1495.4 L319.9,1493.6 L320.9,1492.1 L323.4,1487.4 L325.9,1481.2 L327.9,1475.3 L329.9,1468.5 L336.9,1442.3 L339.4,1433.5 L341.9,1425.8 L343.4,1421.9 L344.9,1418.5 L346.9,1414.5 L348.9,1411.1 L351.9,1406.5 L354.9,1402.4 L357.4,1399.3 L359.9,1396.6 L362.4,1394.3 L364.4,1392.8 L366.9,1391.4 L368.9,1390.7 L370.9,1390.3 L372.9,1390.3 L374.9,1390.8 L376.9,1391.6 L378.9,1392.9 L380.4,1394.2 L382.4,1396.3 L384.4,1398.9 L386.4,1401.9 L388.4,1405.4 L392.9,1414.1 L401.4,1432.0 L403.4,1435.4 L404.4,1436.6 L404.9,1437.0 L405.9,1437.2 L406.4,1437.2 L407.4,1436.5 L407.9,1436.0 L408.9,1434.5 L409.9,1432.5 L410.9,1429.9 L412.9,1423.3 L414.9,1414.7 L416.9,1404.1 L419.9,1384.3 L425.4,1342.6 L427.9,1324.8 L430.9,1305.8 L433.4,1292.0 L435.9,1280.1 L438.9,1267.9 L442.4,1255.5 L446.9,1241.2 L449.9,1232.4 L452.9,1224.2 L455.9,1216.5 L458.9,1209.4 L461.9,1202.7 L465.4,1195.5 L468.4,1189.9 L471.9,1183.8 L475.4,1178.2 L478.9,1173.0 L482.4,1168.3 L486.4,1163.4 L490.4,1158.9 L494.4,1154.7 L498.9,1150.4 L503.9,1145.9 L510.9,1139.9 L517.4,1134.5 L523.9,1129.5 L529.9,1125.1 L535.9,1120.9 L541.9,1117.0 L547.9,1113.4 L553.4,1110.3 L561.9,1106.1 L571.4,1102.2 L580.4,1098.9 L601.4,1091.7 L611.4,1087.9 L620.4,1083.9 L623.4,1082.4 L625.9,1081.0 L629.9,1078.2 L631.9,1076.5 L633.9,1074.5 L637.4,1070.5 L645.4,1060.4 L647.9,1057.6 L649.9,1055.7 L652.4,1053.7 L654.9,1052.2 L657.4,1051.1 L659.9,1050.4 L662.4,1050.0 L664.9,1049.8 L667.4,1049.9 L669.9,1050.1 L672.4,1050.6 L675.4,1051.3 L678.4,1052.3 L681.4,1053.5 L685.9,1055.6 L691.4,1058.6 L696.9,1061.9 L712.9,1071.9 L718.9,1075.3 L724.4,1078.3 L730.4,1081.2 L735.9,1083.6 L741.4,1085.6 L746.9,1087.2 L752.4,1088.5 L757.9,1089.3 L762.9,1089.6 L767.9,1089.5 L772.9,1088.9 L777.9,1087.8 L782.4,1086.4 L787.2,1084.5" stroke="#2c489a"/>
<path d="M114.4,1432.1 L117.9,1431.8 L121.9,1431.2 L125.4,1430.5 L129.4,1429.5 L132.9,1428.5 L136.9,1427.2 L144.4,1424.1 L148.9,1421.9 L153.4,1419.5 L157.9,1416.8 L162.4,1413.9 L166.4,1411.2 L170.9,1407.9 L184.9,1396.9 L188.4,1394.4 L191.9,1392.3 L195.9,1390.5 L197.9,1389.9 L199.9,1389.4 L201.9,1389.2 L203.9,1389.2 L205.9,1389.5 L207.4,1389.9 L209.9,1391.0 L212.9,1392.9 L215.9,1395.5 L218.9,1398.6 L222.4,1402.7 L225.9,1407.3 L237.9,1424.5 L241.9,1430.1 L246.4,1435.9 L251.4,1441.9 L256.9,1448.0 L262.9,1454.3 L281.4,1472.8 L293.9,1485.6 L298.9,1490.4 L303.4,1494.5 L307.4,1497.7 L310.9,1500.2 L313.4,1501.6 L315.4,1502.2 L316.4,1502.3 L317.4,1502.2 L318.9,1501.6 L319.9,1501.0 L320.9,1500.0 L322.4,1498.1 L324.4,1494.4 L326.4,1489.8 L329.9,1479.9 L337.4,1456.2 L341.9,1442.7 L345.9,1431.7 L349.9,1421.9 L353.4,1414.8 L356.4,1409.8 L357.9,1407.7 L359.4,1406.0 L360.9,1404.6 L362.4,1403.6 L363.9,1402.8 L365.9,1402.2 L367.9,1401.9 L370.4,1402.0 L373.9,1402.5 L377.9,1403.3 L379.9,1404.1 L381.9,1405.4 L383.4,1406.8 L385.4,1409.4 L386.9,1411.8 L388.9,1415.5 L392.4,1423.0 L400.4,1441.6 L401.9,1444.7 L403.4,1447.3 L404.4,1448.4 L405.4,1449.1 L405.9,1449.2 L406.9,1449.0 L407.4,1448.7 L408.4,1447.7 L409.4,1446.4 L410.4,1444.7 L411.9,1441.6 L413.4,1438.1 L414.9,1434.2 L416.4,1429.8 L418.9,1420.8 L420.9,1411.7 L422.4,1403.4 L423.9,1393.8 L425.9,1379.1 L431.4,1336.5 L433.4,1323.0 L435.4,1310.9 L437.9,1297.7 L440.9,1284.0 L443.9,1272.5 L447.4,1260.9 L450.4,1252.1 L453.9,1242.4 L457.9,1231.9 L461.4,1223.2 L464.9,1214.9 L468.4,1207.2 L471.4,1200.9 L474.9,1194.2 L478.4,1187.9 L481.9,1182.1 L485.4,1176.7 L488.9,1171.7 L492.4,1167.2 L496.4,1162.4 L500.4,1158.0 L504.9,1153.5 L508.9,1149.8 L513.4,1146.0 L518.4,1142.1 L523.9,1138.2 L530.4,1133.7 L536.9,1129.6 L543.9,1125.3 L550.9,1121.3 L565.4,1113.5 L581.9,1105.4 L589.4,1102.0 L596.4,1098.9 L614.4,1091.9 L618.4,1090.0 L622.4,1087.6 L624.9,1085.9 L627.4,1083.8 L629.9,1081.5 L632.4,1078.8 L635.9,1074.5 L643.4,1064.1 L646.9,1059.9 L648.4,1058.5 L649.9,1057.3 L651.4,1056.3 L653.4,1055.4 L655.9,1054.7 L658.4,1054.4 L672.9,1054.1 L675.4,1054.2 L678.4,1054.7 L680.9,1055.3 L683.9,1056.2 L686.9,1057.3 L689.9,1058.7 L693.4,1060.5 L696.9,1062.4 L703.4,1066.5 L720.9,1078.0 L725.9,1081.0 L730.4,1083.4 L735.4,1085.6 L740.4,1087.3 L744.9,1088.3 L747.4,1088.5 L749.4,1088.6 L752.4,1088.4 L754.9,1088.0 L757.4,1087.3 L759.9,1086.4 L762.4,1085.2 L764.9,1083.7 L767.4,1081.9 L769.4,1080.2 L771.9,1077.8 L773.9,1075.6 L776.4,1072.6 L778.4,1069.9 L780.9,1066.2 L782.9,1062.9 L787.2,1055.0" stroke="#3686c8"/>
<path d="M114.4,1458.1 L118.9,1457.4 L122.9,1456.6 L127.4,1455.4 L131.4,1454.1 L135.4,1452.6 L139.4,1450.8 L143.4,1448.7 L146.9,1446.7 L150.9,1444.1 L154.9,1441.2 L158.9,1438.0 L162.9,1434.5 L168.9,1428.6 L179.4,1417.3 L183.4,1413.1 L187.4,1409.3 L190.9,1406.4 L193.4,1404.6 L195.4,1403.4 L197.4,1402.4 L199.4,1401.7 L201.4,1401.2 L203.4,1401.0 L204.9,1401.0 L206.9,1401.3 L208.9,1401.8 L210.9,1402.6 L212.9,1403.6 L214.9,1404.9 L216.9,1406.3 L219.4,1408.3 L224.4,1412.8 L229.4,1417.9 L235.4,1424.5 L256.4,1448.6 L265.4,1458.5 L276.9,1470.3 L288.9,1481.8 L296.9,1489.0 L313.4,1503.2 L314.9,1504.2 L316.4,1504.8 L317.9,1504.9 L319.4,1504.5 L320.4,1503.8 L321.9,1502.4 L323.4,1500.6 L324.9,1498.5 L327.9,1493.5 L330.9,1487.2 L333.4,1481.2 L336.4,1473.3 L345.4,1447.7 L348.9,1438.2 L351.9,1430.8 L354.9,1424.2 L357.9,1418.6 L360.4,1415.0 L361.9,1413.2 L363.4,1411.7 L364.9,1410.4 L366.4,1409.3 L368.4,1408.2 L370.9,1407.3 L373.4,1406.7 L376.4,1406.3 L378.4,1406.4 L380.4,1406.9 L381.9,1407.6 L383.4,1408.7 L384.9,1410.3 L386.9,1412.9 L388.4,1415.3 L390.4,1418.9 L394.4,1427.3 L401.4,1443.3 L403.4,1447.0 L404.4,1448.2 L404.9,1448.6 L405.4,1448.9 L405.9,1448.9 L406.4,1448.8 L407.4,1448.2 L407.9,1447.7 L408.9,1446.2 L409.9,1444.2 L411.4,1440.4 L416.4,1425.3 L420.9,1413.0 L422.4,1408.2 L423.9,1402.4 L425.4,1395.1 L427.4,1383.2 L432.9,1345.4 L435.4,1329.4 L437.4,1317.9 L439.9,1305.0 L442.9,1291.5 L446.4,1278.0 L448.4,1271.2 L450.4,1265.0 L454.4,1254.0 L458.9,1243.1 L465.9,1227.4 L469.9,1219.5 L471.9,1216.1 L473.4,1213.9 L475.4,1211.4 L477.4,1209.1 L484.4,1202.1 L487.4,1198.9 L498.9,1185.0 L504.9,1178.2 L511.9,1171.0 L519.4,1163.9 L524.4,1159.6 L529.9,1155.2 L535.4,1151.1 L541.4,1147.0 L547.4,1143.2 L553.4,1139.7 L559.9,1136.1 L566.9,1132.5 L574.4,1128.9 L581.4,1125.7 L586.9,1123.3 L592.4,1121.2 L597.4,1119.5 L601.9,1118.2 L613.9,1115.5 L617.9,1114.5 L622.4,1112.8 L626.4,1110.7 L628.9,1108.9 L630.9,1107.3 L632.9,1105.5 L634.9,1103.3 L638.4,1099.0 L646.9,1087.7 L649.4,1084.8 L651.4,1082.7 L653.9,1080.5 L656.4,1078.7 L658.9,1077.3 L661.9,1076.1 L663.9,1075.7 L666.4,1075.4 L668.9,1075.3 L671.4,1075.5 L674.4,1075.9 L677.9,1076.7 L681.4,1077.6 L684.9,1078.8 L691.4,1081.4 L698.4,1084.7 L705.4,1088.4 L723.4,1098.2 L728.9,1101.0 L733.4,1103.1 L738.4,1105.2 L742.9,1106.7 L747.4,1107.9 L751.4,1108.5 L753.9,1108.7 L756.4,1108.6 L758.9,1108.5 L761.4,1108.1 L763.9,1107.4 L765.9,1106.8 L768.4,1105.7 L770.4,1104.7 L772.9,1103.2 L774.9,1101.8 L778.9,1098.4 L782.9,1094.3 L787.2,1088.9" stroke="#80bf5e"/>
<path d="M114.4,1430.8 L117.4,1431.1 L120.4,1431.1 L123.4,1431.0 L126.9,1430.5 L129.9,1429.9 L133.4,1429.0 L136.4,1428.1 L139.9,1426.7 L143.9,1424.9 L147.9,1422.9 L152.4,1420.4 L156.9,1417.6 L166.4,1411.1 L182.9,1398.9 L186.9,1396.2 L190.4,1394.3 L192.9,1393.1 L195.4,1392.1 L197.9,1391.5 L199.9,1391.1 L201.9,1391.0 L203.9,1391.1 L205.9,1391.5 L207.9,1392.1 L210.9,1393.5 L213.9,1395.5 L217.4,1398.6 L220.9,1402.3 L224.4,1406.4 L227.9,1411.0 L243.4,1432.2 L251.9,1442.8 L257.9,1449.8 L264.4,1456.9 L271.4,1464.2 L278.9,1471.7 L289.4,1481.9 L297.9,1489.8 L305.9,1496.8 L313.4,1502.9 L316.4,1504.9 L317.9,1505.6 L318.9,1505.9 L319.9,1506.0 L320.9,1505.9 L321.9,1505.6 L322.9,1505.2 L323.9,1504.5 L325.4,1503.1 L326.9,1501.3 L328.4,1499.2 L331.4,1494.1 L334.9,1486.7 L337.9,1479.5 L340.9,1471.6 L354.4,1434.2 L357.9,1425.4 L360.9,1418.6 L363.9,1412.9 L366.4,1408.9 L367.9,1406.9 L369.4,1405.2 L371.9,1403.0 L373.9,1401.9 L375.4,1401.4 L377.4,1401.3 L378.9,1401.6 L380.9,1402.6 L382.4,1403.7 L384.4,1405.8 L385.9,1407.7 L388.4,1411.8 L390.9,1417.0 L392.9,1421.9 L397.4,1434.4 L399.4,1439.6 L401.4,1444.0 L402.4,1445.7 L403.4,1447.1 L404.4,1448.0 L404.9,1448.3 L405.9,1448.5 L406.9,1448.1 L408.4,1446.9 L409.4,1445.6 L410.4,1443.9 L411.9,1440.8 L412.9,1438.2 L414.9,1431.9 L416.9,1424.0 L418.9,1414.3 L420.9,1402.7 L422.4,1392.8 L430.4,1332.4 L432.9,1315.5 L434.9,1303.3 L437.4,1289.8 L440.4,1276.1 L443.4,1264.7 L446.9,1253.6 L450.4,1244.2 L457.9,1225.9 L468.4,1199.3 L472.4,1190.3 L474.4,1186.4 L476.4,1182.8 L478.4,1179.7 L480.4,1176.8 L482.4,1174.2 L484.9,1171.3 L495.4,1160.3 L508.4,1146.4 L515.4,1139.2 L520.9,1134.0 L525.9,1129.5 L530.9,1125.3 L535.9,1121.4 L541.4,1117.4 L546.9,1113.7 L552.4,1110.3 L558.4,1106.9 L568.4,1101.8 L579.4,1096.9 L586.4,1094.1 L593.4,1091.5 L600.4,1089.1 L610.4,1085.9 L614.4,1084.4 L619.4,1082.2 L623.9,1079.6 L626.4,1077.9 L628.4,1076.2 L630.9,1074.0 L632.9,1071.9 L636.4,1067.8 L644.4,1057.3 L646.4,1054.9 L648.4,1052.8 L650.4,1051.0 L652.9,1049.2 L654.9,1048.2 L657.4,1047.2 L659.9,1046.5 L662.4,1046.1 L665.4,1045.9 L668.9,1045.9 L671.9,1046.2 L675.4,1046.7 L678.9,1047.5 L682.4,1048.4 L688.9,1050.7 L695.9,1053.8 L702.9,1057.2 L720.9,1066.6 L726.4,1069.2 L731.4,1071.4 L736.4,1073.2 L741.4,1074.6 L745.9,1075.4 L750.4,1075.8 L752.9,1075.7 L755.4,1075.4 L757.9,1075.0 L760.4,1074.3 L762.9,1073.4 L765.4,1072.2 L767.9,1070.8 L769.9,1069.4 L772.4,1067.5 L774.4,1065.7 L776.9,1063.3 L778.9,1061.0 L782.9,1056.0 L787.2,1049.5" stroke="#e6b120"/>
<path d="M114.4,1438.3 L119.9,1437.6 L125.4,1436.6 L130.9,1435.4 L135.9,1434.1 L140.9,1432.5 L145.4,1430.9 L149.9,1428.9 L154.4,1426.8 L159.4,1424.0 L163.9,1421.3 L168.9,1417.8 L173.4,1414.3 L177.4,1411.0 L181.4,1407.3 L192.4,1396.2 L194.4,1394.5 L196.4,1393.0 L198.9,1391.5 L200.4,1391.0 L201.4,1390.7 L202.4,1390.6 L203.9,1390.7 L206.4,1391.3 L209.4,1392.7 L212.4,1394.7 L215.9,1397.8 L219.4,1401.4 L222.4,1404.9 L225.4,1408.7 L240.9,1429.9 L245.4,1435.7 L250.4,1441.8 L257.9,1450.5 L266.4,1459.9 L274.4,1468.4 L281.9,1476.0 L290.9,1484.7 L299.4,1492.3 L308.4,1499.7 L320.9,1509.6 L322.9,1511.0 L324.9,1512.0 L325.9,1512.2 L326.9,1512.2 L328.4,1511.8 L329.4,1511.1 L330.4,1510.0 L331.4,1508.6 L332.9,1505.8 L338.9,1492.2 L343.4,1481.3 L346.4,1473.3 L348.9,1465.9 L355.9,1443.0 L358.4,1435.3 L360.9,1428.3 L362.9,1423.4 L365.9,1417.1 L368.4,1412.8 L370.9,1409.6 L372.4,1408.1 L373.4,1407.3 L374.9,1406.5 L376.4,1406.0 L377.9,1405.9 L379.4,1406.2 L380.9,1406.9 L382.4,1408.0 L383.4,1408.9 L384.9,1410.7 L386.4,1412.9 L388.4,1416.3 L391.9,1423.6 L395.9,1433.4 L402.4,1451.0 L403.4,1453.3 L404.4,1455.2 L405.4,1456.6 L405.9,1457.0 L406.4,1457.3 L406.9,1457.4 L407.4,1457.3 L408.4,1456.6 L408.9,1456.0 L409.9,1454.3 L410.9,1452.1 L411.9,1449.3 L413.9,1442.4 L416.4,1431.6 L418.9,1418.9 L420.9,1407.6 L422.9,1395.2 L428.9,1354.3 L431.4,1338.1 L433.9,1323.5 L436.4,1310.6 L439.4,1296.9 L442.4,1284.9 L445.9,1272.7 L449.4,1261.8 L452.9,1251.7 L456.4,1242.2 L459.9,1233.3 L463.4,1224.8 L466.9,1216.9 L470.4,1209.5 L473.9,1202.6 L477.4,1196.3 L480.9,1190.4 L484.9,1184.2 L488.9,1178.6 L492.9,1173.4 L496.9,1168.7 L501.4,1163.8 L505.9,1159.3 L510.9,1154.7 L515.9,1150.4 L522.4,1145.2 L531.9,1137.8 L539.9,1131.7 L545.9,1127.5 L551.4,1123.7 L556.9,1120.3 L561.9,1117.4 L569.4,1113.6 L573.4,1111.9 L576.9,1110.5 L583.9,1108.2 L599.9,1103.7 L607.4,1101.1 L610.9,1099.7 L613.9,1098.3 L616.9,1096.7 L619.9,1094.9 L622.9,1092.9 L625.9,1090.6 L628.9,1088.0 L631.9,1085.2 L635.9,1080.9 L645.4,1069.8 L649.9,1065.1 L652.4,1063.0 L654.4,1061.7 L656.4,1060.7 L658.4,1060.1 L659.9,1059.9 L661.4,1060.0 L662.9,1060.2 L664.9,1060.7 L668.4,1062.1 L675.9,1065.6 L680.4,1067.3 L686.4,1069.2 L700.4,1073.1 L707.4,1075.5 L711.4,1077.2 L715.4,1079.2 L730.9,1087.7 L737.9,1091.3 L746.4,1095.1 L754.9,1098.4 L762.9,1101.0 L770.9,1103.2 L778.9,1104.8 L787.2,1106.0" stroke="#fd5a06"/>
<path d="M114.4,1440.0 L119.4,1439.6 L123.9,1439.0 L128.4,1438.2 L132.9,1437.1 L137.4,1435.7 L141.9,1434.1 L146.4,1432.3 L150.9,1430.1 L155.9,1427.5 L160.9,1424.5 L165.9,1421.2 L170.9,1417.5 L178.4,1411.4 L182.9,1407.4 L191.4,1399.4 L193.9,1397.3 L195.9,1395.9 L198.4,1394.5 L200.9,1393.7 L201.9,1393.6 L203.4,1393.6 L205.9,1394.2 L207.4,1394.7 L209.4,1395.8 L212.9,1398.1 L216.4,1401.1 L220.4,1405.2 L223.4,1408.6 L226.9,1412.9 L243.4,1434.8 L248.9,1441.7 L254.9,1448.9 L261.4,1456.4 L268.4,1464.0 L275.4,1471.2 L282.4,1478.1 L290.4,1485.5 L299.4,1493.6 L312.9,1505.4 L317.9,1509.4 L321.9,1512.1 L323.9,1513.1 L325.9,1514.0 L327.4,1514.4 L328.9,1514.6 L330.4,1514.5 L331.4,1514.1 L332.9,1513.2 L333.9,1512.2 L334.9,1510.9 L336.4,1508.5 L338.9,1503.4 L342.4,1494.8 L345.4,1486.6 L347.9,1478.9 L354.9,1454.7 L357.4,1446.6 L359.4,1440.9 L361.4,1435.9 L362.9,1432.7 L364.9,1428.8 L366.9,1425.3 L369.4,1421.3 L371.4,1418.4 L372.9,1416.5 L374.4,1414.9 L375.9,1413.6 L377.4,1412.7 L378.4,1412.4 L379.4,1412.3 L380.9,1412.5 L381.9,1412.9 L383.4,1413.8 L384.9,1415.2 L386.4,1416.9 L387.9,1418.9 L389.9,1422.2 L391.4,1425.0 L393.4,1429.3 L396.4,1436.8 L401.9,1452.5 L403.4,1456.0 L404.4,1457.9 L405.4,1459.3 L405.9,1459.7 L406.9,1460.2 L407.4,1460.2 L407.9,1460.1 L408.9,1459.2 L410.4,1456.9 L411.4,1454.6 L412.4,1451.8 L414.9,1443.0 L418.9,1426.1 L421.9,1411.6 L423.9,1400.6 L425.4,1391.5 L431.4,1351.8 L433.9,1336.2 L436.4,1322.3 L439.4,1307.4 L442.9,1292.1 L446.9,1276.6 L450.9,1262.9 L455.4,1249.4 L457.9,1242.8 L460.4,1236.7 L462.9,1231.0 L465.9,1224.8 L468.9,1219.2 L471.9,1214.0 L474.9,1209.2 L478.4,1204.1 L482.4,1198.7 L486.4,1193.6 L490.9,1188.3 L495.4,1183.3 L500.4,1178.0 L505.9,1172.5 L511.4,1167.3 L516.9,1162.4 L522.4,1157.7 L528.4,1153.0 L534.4,1148.5 L540.4,1144.4 L546.4,1140.5 L552.4,1136.9 L558.4,1133.6 L564.9,1130.3 L570.4,1127.7 L575.9,1125.3 L581.4,1123.1 L586.9,1121.1 L592.9,1119.1 L599.4,1117.1 L621.9,1110.8 L625.4,1109.5 L627.9,1108.1 L629.9,1106.7 L631.4,1105.4 L633.4,1103.2 L634.9,1101.2 L638.4,1095.6 L645.9,1082.2 L647.9,1079.0 L649.9,1076.3 L651.9,1074.2 L654.4,1072.2 L656.9,1070.9 L659.4,1070.2 L661.4,1070.0 L663.4,1070.2 L665.4,1070.5 L667.4,1071.1 L671.4,1072.8 L681.9,1078.3 L686.9,1080.6 L691.9,1082.3 L703.4,1085.7 L708.4,1087.5 L711.4,1088.9 L714.9,1090.6 L727.4,1097.8 L731.9,1100.2 L737.4,1102.7 L742.9,1104.9 L748.4,1106.8 L754.4,1108.6 L777.4,1114.4 L787.2,1117.2" stroke="#e22a6c"/>
</g>
<path d="M113.8,1545.9 V1043.5 H788.5 V1545.9" fill="none" stroke="#000" stroke-width="1.9" stroke-linejoin="round"/>
<path d="M113.8,1540.9 V1545.9 H788.5 V1540.9" fill="none" stroke="#000" stroke-width="1.9" stroke-linejoin="round"/>
<line x1="113.8" y1="1462.5" x2="123.8" y2="1462.5" stroke="#000" stroke-width="1.8" />
<text x="102.8" y="1471.5" font-size="29" text-anchor="end" fill="#000" >40</text>
<line x1="113.8" y1="1294.8" x2="123.8" y2="1294.8" stroke="#000" stroke-width="1.8" />
<text x="102.8" y="1303.8" font-size="29" text-anchor="end" fill="#000" >60</text>
<line x1="113.8" y1="1127.1" x2="123.8" y2="1127.1" stroke="#000" stroke-width="1.8" />
<text x="102.8" y="1136.1" font-size="29" text-anchor="end" fill="#000" >80</text>
<line x1="113.8" y1="1378.6" x2="119.0" y2="1378.6" stroke="#000" stroke-width="1.8" />
<line x1="113.8" y1="1210.9" x2="119.0" y2="1210.9" stroke="#000" stroke-width="1.8" />
<line x1="162.1" y1="1545.9" x2="162.1" y2="1540.9" stroke="#000" stroke-width="1.8" />
<line x1="210.3" y1="1545.9" x2="210.3" y2="1536.4" stroke="#000" stroke-width="1.8" />
<line x1="258.5" y1="1545.9" x2="258.5" y2="1540.9" stroke="#000" stroke-width="1.8" />
<line x1="306.7" y1="1545.9" x2="306.7" y2="1536.4" stroke="#000" stroke-width="1.8" />
<line x1="354.9" y1="1545.9" x2="354.9" y2="1540.9" stroke="#000" stroke-width="1.8" />
<line x1="403.1" y1="1545.9" x2="403.1" y2="1536.4" stroke="#000" stroke-width="1.8" />
<line x1="451.3" y1="1545.9" x2="451.3" y2="1540.9" stroke="#000" stroke-width="1.8" />
<line x1="499.5" y1="1545.9" x2="499.5" y2="1536.4" stroke="#000" stroke-width="1.8" />
<line x1="547.7" y1="1545.9" x2="547.7" y2="1540.9" stroke="#000" stroke-width="1.8" />
<line x1="595.9" y1="1545.9" x2="595.9" y2="1536.4" stroke="#000" stroke-width="1.8" />
<line x1="644.1" y1="1545.9" x2="644.1" y2="1540.9" stroke="#000" stroke-width="1.8" />
<line x1="692.3" y1="1545.9" x2="692.3" y2="1536.4" stroke="#000" stroke-width="1.8" />
<line x1="740.5" y1="1545.9" x2="740.5" y2="1540.9" stroke="#000" stroke-width="1.8" />
<text x="113.9" y="1578.6" font-size="29" text-anchor="middle" fill="#000" >400</text>
<text x="210.3" y="1578.6" font-size="29" text-anchor="middle" fill="#000" >500</text>
<text x="306.7" y="1578.6" font-size="29" text-anchor="middle" fill="#000" >600</text>
<text x="403.1" y="1578.6" font-size="29" text-anchor="middle" fill="#000" >700</text>
<text x="499.5" y="1578.6" font-size="29" text-anchor="middle" fill="#000" >800</text>
<text x="595.9" y="1578.6" font-size="29" text-anchor="middle" fill="#000" >900</text>
<text x="692.3" y="1578.6" font-size="29" text-anchor="middle" fill="#000" >1000</text>
<text x="788.7" y="1578.6" font-size="29" text-anchor="middle" fill="#000" >1100</text>
<text x="451.3" y="1628.6" font-size="33" text-anchor="middle" fill="#000" >Wavelength (nm)</text>
<text transform="translate(57.1,276.8) rotate(-90)" font-size="33" text-anchor="middle">Transmission (%)</text>
<text transform="translate(57.1,783.0) rotate(-90)" font-size="33" text-anchor="middle">Transmission (%)</text>
<text transform="translate(57.1,1280.9) rotate(-90)" font-size="33" text-anchor="middle">Transmission (%)</text>
<line x1="593.5" y1="343.6" x2="657.3" y2="343.6" stroke="#2c489a" stroke-width="2.1" />
<text x="664.4" y="353.1" font-size="28" text-anchor="start" fill="#000" >1.3333</text>
<line x1="593.5" y1="378.0" x2="657.3" y2="378.0" stroke="#3686c8" stroke-width="2.1" />
<text x="664.4" y="387.5" font-size="28" text-anchor="start" fill="#000" >1.3416</text>
<line x1="593.5" y1="412.4" x2="657.3" y2="412.4" stroke="#80bf5e" stroke-width="2.1" />
<text x="664.4" y="421.9" font-size="28" text-anchor="start" fill="#000" >1.3505</text>
<line x1="593.5" y1="446.8" x2="657.3" y2="446.8" stroke="#e6b120" stroke-width="2.1" />
<text x="664.4" y="456.3" font-size="28" text-anchor="start" fill="#000" >1.3601</text>
<line x1="593.5" y1="481.2" x2="657.3" y2="481.2" stroke="#fd5a06" stroke-width="2.1" />
<text x="664.4" y="490.7" font-size="28" text-anchor="start" fill="#000" >1.3691</text>
<line x1="593.5" y1="515.6" x2="657.3" y2="515.6" stroke="#e22a6c" stroke-width="2.1" />
<text x="664.4" y="525.1" font-size="28" text-anchor="start" fill="#000" >1.3786</text>
<line x1="594.1" y1="846.8" x2="657.9" y2="846.8" stroke="#2c489a" stroke-width="2.1" />
<text x="665.0" y="856.3" font-size="28" text-anchor="start" fill="#000" >1.3333</text>
<line x1="594.1" y1="881.2" x2="657.9" y2="881.2" stroke="#3686c8" stroke-width="2.1" />
<text x="665.0" y="890.7" font-size="28" text-anchor="start" fill="#000" >1.3416</text>
<line x1="594.1" y1="915.6" x2="657.9" y2="915.6" stroke="#80bf5e" stroke-width="2.1" />
<text x="665.0" y="925.1" font-size="28" text-anchor="start" fill="#000" >1.3505</text>
<line x1="594.1" y1="950.0" x2="657.9" y2="950.0" stroke="#e6b120" stroke-width="2.1" />
<text x="665.0" y="959.5" font-size="28" text-anchor="start" fill="#000" >1.3601</text>
<line x1="594.1" y1="984.4" x2="657.9" y2="984.4" stroke="#fd5a06" stroke-width="2.1" />
<text x="665.0" y="993.9" font-size="28" text-anchor="start" fill="#000" >1.3691</text>
<line x1="594.1" y1="1018.8" x2="657.9" y2="1018.8" stroke="#e22a6c" stroke-width="2.1" />
<text x="665.0" y="1028.3" font-size="28" text-anchor="start" fill="#000" >1.3786</text>
<line x1="595.0" y1="1347.8" x2="658.8" y2="1347.8" stroke="#2c489a" stroke-width="2.1" />
<text x="665.9" y="1357.3" font-size="28" text-anchor="start" fill="#000" >1.3333</text>
<line x1="595.0" y1="1382.2" x2="658.8" y2="1382.2" stroke="#3686c8" stroke-width="2.1" />
<text x="665.9" y="1391.7" font-size="28" text-anchor="start" fill="#000" >1.3416</text>
<line x1="595.0" y1="1416.6" x2="658.8" y2="1416.6" stroke="#80bf5e" stroke-width="2.1" />
<text x="665.9" y="1426.1" font-size="28" text-anchor="start" fill="#000" >1.3505</text>
<line x1="595.0" y1="1451.0" x2="658.8" y2="1451.0" stroke="#e6b120" stroke-width="2.1" />
<text x="665.9" y="1460.5" font-size="28" text-anchor="start" fill="#000" >1.3601</text>
<line x1="595.0" y1="1485.4" x2="658.8" y2="1485.4" stroke="#fd5a06" stroke-width="2.1" />
<text x="665.9" y="1494.9" font-size="28" text-anchor="start" fill="#000" >1.3691</text>
<line x1="595.0" y1="1519.8" x2="658.8" y2="1519.8" stroke="#e22a6c" stroke-width="2.1" />
<text x="665.9" y="1529.3" font-size="28" text-anchor="start" fill="#000" >1.3786</text>
<g clip-path="url(#ic0)">
<rect x="165.4" y="87.0" width="170.8" height="170.3" fill="#b2b2b2"/>
<g filter="url(#halo)" opacity="0.45">
<circle cx="171.6" cy="106.0" r="18.8" fill="none" stroke="#ffffff" stroke-width="5"/>
<circle cx="235.1" cy="117.8" r="18.8" fill="none" stroke="#ffffff" stroke-width="5"/>
<circle cx="293.5" cy="131.0" r="18.8" fill="none" stroke="#ffffff" stroke-width="5"/>
<circle cx="194.6" cy="161.0" r="18.8" fill="none" stroke="#ffffff" stroke-width="5"/>
<circle cx="253.1" cy="174.5" r="18.8" fill="none" stroke="#ffffff" stroke-width="5"/>
<circle cx="310.8" cy="188.0" r="18.8" fill="none" stroke="#ffffff" stroke-width="5"/>
<circle cx="211.9" cy="218.2" r="18.8" fill="none" stroke="#ffffff" stroke-width="5"/>
<circle cx="269.6" cy="231.2" r="18.8" fill="none" stroke="#ffffff" stroke-width="5"/>
<circle cx="276.0" cy="75.0" r="18.8" fill="none" stroke="#ffffff" stroke-width="5"/>
<circle cx="334.0" cy="88.0" r="18.8" fill="none" stroke="#ffffff" stroke-width="5"/>
<circle cx="351.0" cy="144.5" r="18.8" fill="none" stroke="#ffffff" stroke-width="5"/>
<circle cx="329.0" cy="244.8" r="18.8" fill="none" stroke="#ffffff" stroke-width="5"/>
<circle cx="158.3" cy="258.8" r="18.8" fill="none" stroke="#ffffff" stroke-width="5"/>
</g><g filter="url(#soft)">
<circle cx="171.6" cy="106.0" r="16.900000000000002" fill="none" stroke="#ffffff" stroke-width="2.2"/>
<circle cx="235.1" cy="117.8" r="16.900000000000002" fill="none" stroke="#ffffff" stroke-width="2.2"/>
<circle cx="293.5" cy="131.0" r="16.900000000000002" fill="none" stroke="#ffffff" stroke-width="2.2"/>
<circle cx="194.6" cy="161.0" r="16.900000000000002" fill="none" stroke="#ffffff" stroke-width="2.2"/>
<circle cx="253.1" cy="174.5" r="16.900000000000002" fill="none" stroke="#ffffff" stroke-width="2.2"/>
<circle cx="310.8" cy="188.0" r="16.900000000000002" fill="none" stroke="#ffffff" stroke-width="2.2"/>
<circle cx="211.9" cy="218.2" r="16.900000000000002" fill="none" stroke="#ffffff" stroke-width="2.2"/>
<circle cx="269.6" cy="231.2" r="16.900000000000002" fill="none" stroke="#ffffff" stroke-width="2.2"/>
<circle cx="276.0" cy="75.0" r="16.900000000000002" fill="none" stroke="#ffffff" stroke-width="2.2"/>
<circle cx="334.0" cy="88.0" r="16.900000000000002" fill="none" stroke="#ffffff" stroke-width="2.2"/>
<circle cx="351.0" cy="144.5" r="16.900000000000002" fill="none" stroke="#ffffff" stroke-width="2.2"/>
<circle cx="329.0" cy="244.8" r="16.900000000000002" fill="none" stroke="#ffffff" stroke-width="2.2"/>
<circle cx="158.3" cy="258.8" r="16.900000000000002" fill="none" stroke="#ffffff" stroke-width="2.2"/>
</g>
<g filter="url(#soft)">
<circle cx="171.6" cy="106.0" r="15.8" fill="#1c1c1c"/>
<circle cx="235.1" cy="117.8" r="15.8" fill="#1c1c1c"/>
<circle cx="293.5" cy="131.0" r="15.8" fill="#1c1c1c"/>
<circle cx="194.6" cy="161.0" r="15.8" fill="#1c1c1c"/>
<circle cx="253.1" cy="174.5" r="15.8" fill="#1c1c1c"/>
<circle cx="310.8" cy="188.0" r="15.8" fill="#1c1c1c"/>
<circle cx="211.9" cy="218.2" r="15.8" fill="#1c1c1c"/>
<circle cx="269.6" cy="231.2" r="15.8" fill="#1c1c1c"/>
<circle cx="276.0" cy="75.0" r="15.8" fill="#1c1c1c"/>
<circle cx="334.0" cy="88.0" r="15.8" fill="#1c1c1c"/>
<circle cx="351.0" cy="144.5" r="15.8" fill="#1c1c1c"/>
<circle cx="329.0" cy="244.8" r="15.8" fill="#1c1c1c"/>
<circle cx="158.3" cy="258.8" r="15.8" fill="#1c1c1c"/>
</g>
<rect x="165.4" y="87.0" width="170.8" height="170.3" fill="#000" filter="url(#grain)" opacity="0.5"/>
<rect x="165.4" y="87.0" width="170.8" height="170.3" fill="#fff" filter="url(#grainw)" opacity="0.45"/>
<rect x="271.7" y="241.5" width="54.1" height="8.3" fill="#fff"/>
</g>
<g clip-path="url(#ic1)">
<rect x="166.2" y="587.0" width="169.8" height="170.7" fill="#cccccc"/>
<g filter="url(#soft)">
<circle cx="200" cy="590.2" r="19.6" fill="#1e1e1e"/>
<circle cx="250.8" cy="616.7" r="19.6" fill="#1e1e1e"/>
<circle cx="298.7" cy="584.5" r="19.6" fill="#1e1e1e"/>
<circle cx="348.4" cy="611.6" r="19.6" fill="#1e1e1e"/>
<circle cx="151.5" cy="621.2" r="19.6" fill="#1e1e1e"/>
<circle cx="202.9" cy="647.7" r="19.6" fill="#1e1e1e"/>
<circle cx="301.3" cy="642" r="19.6" fill="#1e1e1e"/>
<circle cx="253.4" cy="673.6" r="19.6" fill="#1e1e1e"/>
<circle cx="155" cy="679.3" r="19.6" fill="#1e1e1e"/>
<circle cx="205.1" cy="705.2" r="19.6" fill="#1e1e1e"/>
<circle cx="303.3" cy="699" r="19.6" fill="#1e1e1e"/>
<circle cx="255.3" cy="731.2" r="19.6" fill="#1e1e1e"/>
<circle cx="157.7" cy="736.8" r="19.6" fill="#1e1e1e"/>
<circle cx="208.3" cy="762.2" r="19.6" fill="#1e1e1e"/>
<circle cx="309.5" cy="770.6" r="19.6" fill="#1e1e1e"/>
<circle cx="355.5" cy="670" r="19.6" fill="#1e1e1e"/>
</g>
<rect x="166.2" y="587.0" width="169.8" height="170.7" fill="#000" filter="url(#grain)" opacity="0.55"/>
<rect x="166.2" y="587.0" width="169.8" height="170.7" fill="#fff" filter="url(#grainw)" opacity="0.5"/>
<rect x="271.1" y="741.5" width="53.8" height="8.3" fill="#fff"/>
</g>
<g clip-path="url(#ic2)">
<rect x="165.1" y="1088.1" width="171.1" height="171.3" fill="#f4f4f4"/>
<g filter="url(#soft)">
<circle cx="201" cy="1092.2" r="23.6" fill="#1a1a1a"/>
<circle cx="251.4" cy="1119.5" r="23.6" fill="#1a1a1a"/>
<circle cx="300.2" cy="1088.5" r="23.6" fill="#1a1a1a"/>
<circle cx="350.3" cy="1117.2" r="23.6" fill="#1a1a1a"/>
<circle cx="152.1" cy="1120.8" r="23.6" fill="#1a1a1a"/>
<circle cx="202.1" cy="1148.6" r="23.6" fill="#1a1a1a"/>
<circle cx="300.2" cy="1147.1" r="23.6" fill="#1a1a1a"/>
<circle cx="251.9" cy="1175.9" r="23.6" fill="#1a1a1a"/>
<circle cx="153" cy="1177.9" r="23.6" fill="#1a1a1a"/>
<circle cx="350" cy="1174.5" r="23.6" fill="#1a1a1a"/>
<circle cx="202.3" cy="1205.8" r="23.6" fill="#1a1a1a"/>
<circle cx="301.6" cy="1203.5" r="23.6" fill="#1a1a1a"/>
<circle cx="253.4" cy="1232.3" r="23.6" fill="#1a1a1a"/>
<circle cx="153.8" cy="1234.8" r="23.6" fill="#1a1a1a"/>
<circle cx="204.9" cy="1263.3" r="23.6" fill="#1a1a1a"/>
<circle cx="302.7" cy="1259.9" r="23.6" fill="#1a1a1a"/>
<circle cx="351.8" cy="1231.2" r="23.6" fill="#1a1a1a"/>
</g>
<rect x="165.1" y="1088.1" width="171.1" height="171.3" fill="#000" filter="url(#grain)" opacity="0.42"/>
<rect x="165.1" y="1088.1" width="171.1" height="171.3" fill="#fff" filter="url(#grainw)" opacity="0.5"/>
<rect x="271.1" y="1242.7" width="54.2" height="8.5" fill="#fff"/>
</g>
<text x="-0.6" y="46.3" font-size="63" text-anchor="start" fill="#000" >(a)</text>
<text x="-0.6" y="577.6" font-size="63" text-anchor="start" fill="#000" >(b)</text>
<text x="-0.6" y="1080.4" font-size="63" text-anchor="start" fill="#000" >(c)</text>
<text x="822.1" y="46.3" font-size="63" text-anchor="start" fill="#000" >(d)</text>
<text x="822.1" y="577.6" font-size="63" text-anchor="start" fill="#000" >(e)</text>
<text x="822.1" y="1080.4" font-size="63" text-anchor="start" fill="#000" >(f)</text>
<line x1="948.0" y1="443.8" x2="958.7" y2="443.8" stroke="#000" stroke-width="1.8" />
<text x="937.5" y="452.8" font-size="29" text-anchor="end" fill="#000" >640</text>
<line x1="948.0" y1="256.1" x2="958.7" y2="256.1" stroke="#000" stroke-width="1.8" />
<text x="937.5" y="265.1" font-size="29" text-anchor="end" fill="#000" >660</text>
<line x1="948.0" y1="68.4" x2="958.7" y2="68.4" stroke="#000" stroke-width="1.8" />
<text x="937.5" y="77.4" font-size="29" text-anchor="end" fill="#000" >680</text>
<line x1="948.0" y1="350.0" x2="953.2" y2="350.0" stroke="#000" stroke-width="1.8" />
<line x1="948.0" y1="162.2" x2="953.2" y2="162.2" stroke="#000" stroke-width="1.8" />
<line x1="1015.2" y1="539.9" x2="1015.2" y2="538.1" stroke="#000" stroke-width="1.8" />
<line x1="1082.6" y1="539.9" x2="1082.6" y2="532.3" stroke="#000" stroke-width="1.8" />
<line x1="1150.1" y1="539.9" x2="1150.1" y2="538.1" stroke="#000" stroke-width="1.8" />
<line x1="1217.5" y1="539.9" x2="1217.5" y2="532.3" stroke="#000" stroke-width="1.8" />
<line x1="1285.0" y1="539.9" x2="1285.0" y2="538.1" stroke="#000" stroke-width="1.8" />
<line x1="1352.4" y1="539.9" x2="1352.4" y2="532.3" stroke="#000" stroke-width="1.8" />
<line x1="1419.9" y1="539.9" x2="1419.9" y2="538.1" stroke="#000" stroke-width="1.8" />
<line x1="1487.3" y1="539.9" x2="1487.3" y2="532.3" stroke="#000" stroke-width="1.8" />
<line x1="1554.8" y1="539.9" x2="1554.8" y2="538.1" stroke="#000" stroke-width="1.8" />
<rect x="954.2" y="43.3" width="232.6" height="80.7" fill="#d3d3d3"/>
<text x="981.8" y="99.4" font-size="43" text-anchor="start" fill="#000" >D=280nm</text>
<path d="M994.9,152.5 L1003.9,167.5 L985.9,167.5 Z" fill="rgba(0,0,255,0.69)"/>
<circle cx="994.9" cy="213.8" r="7.7" fill="rgba(128,128,0,0.58)"/>
<text x="1051.7" y="176.6" font-size="43" text-anchor="start" fill="#000" >Sim</text>
<text x="1052.4" y="228.3" font-size="43" text-anchor="start" fill="#000" >Exp</text>
<path d="M992.2,524.8 L1000.9,539.4 L983.5,539.4 Z" fill="rgba(0,0,255,0.69)"/>
<circle cx="992.2" cy="284.2" r="7.6" fill="rgba(128,128,0,0.58)"/>
<path d="M1104.2,482.5 L1112.9,497.1 L1095.5,497.1 Z" fill="rgba(0,0,255,0.69)"/>
<circle cx="1104.2" cy="268.5" r="7.6" fill="rgba(128,128,0,0.58)"/>
<path d="M1224.2,452.7 L1232.9,467.3 L1215.5,467.3 Z" fill="rgba(0,0,255,0.69)"/>
<circle cx="1224.2" cy="234.1" r="7.6" fill="rgba(128,128,0,0.58)"/>
<path d="M1353.7,420.8 L1362.4,435.4 L1345.0,435.4 Z" fill="rgba(0,0,255,0.69)"/>
<circle cx="1353.7" cy="192.1" r="7.6" fill="rgba(128,128,0,0.58)"/>
<path d="M1475.2,391.1 L1483.9,405.7 L1466.5,405.7 Z" fill="rgba(0,0,255,0.69)"/>
<circle cx="1475.2" cy="171.3" r="7.6" fill="rgba(128,128,0,0.58)"/>
<path d="M1603.3,347.4 L1612.0,362.0 L1594.6,362.0 Z" fill="rgba(0,0,255,0.69)"/>
<circle cx="1603.3" cy="138.5" r="7.6" fill="rgba(128,128,0,0.58)"/>
<line x1="992.2" y1="286.8" x2="1603.5" y2="138.2" stroke="rgba(128,128,0,0.72)" stroke-width="2.1" />
<line x1="992.2" y1="529.6" x2="1603.5" y2="359.0" stroke="rgba(0,0,255,0.85)" stroke-width="2.1" />
<text transform="translate(1277.8,173.6) rotate(-13.8)" font-size="39.4" text-anchor="middle" dominant-baseline="central" fill="#a8a852">353nm/RIU</text>
<text transform="translate(1278.2,390.4) rotate(-15.05)" font-size="39.4" text-anchor="middle" dominant-baseline="central" fill="#3d3dff">398nm/RIU</text>
<path d="M948.0,539.4 V40.2 H1622.4 V539.4" fill="none" stroke="#000" stroke-width="1.9" stroke-linejoin="round"/>
<line x1="948.0" y1="963.6" x2="958.7" y2="963.6" stroke="#000" stroke-width="1.8" />
<text x="937.5" y="972.6" font-size="29" text-anchor="end" fill="#000" >620</text>
<line x1="948.0" y1="801.7" x2="958.7" y2="801.7" stroke="#000" stroke-width="1.8" />
<text x="937.5" y="810.7" font-size="29" text-anchor="end" fill="#000" >630</text>
<line x1="948.0" y1="639.8" x2="958.7" y2="639.8" stroke="#000" stroke-width="1.8" />
<text x="937.5" y="648.8" font-size="29" text-anchor="end" fill="#000" >640</text>
<line x1="948.0" y1="882.6" x2="953.2" y2="882.6" stroke="#000" stroke-width="1.8" />
<line x1="948.0" y1="720.8" x2="953.2" y2="720.8" stroke="#000" stroke-width="1.8" />
<line x1="948.0" y1="558.8" x2="953.2" y2="558.8" stroke="#000" stroke-width="1.8" />
<line x1="1015.2" y1="1041.1" x2="1015.2" y2="1039.3" stroke="#000" stroke-width="1.8" />
<line x1="1082.6" y1="1041.1" x2="1082.6" y2="1034.7" stroke="#000" stroke-width="1.8" />
<line x1="1150.1" y1="1041.1" x2="1150.1" y2="1039.3" stroke="#000" stroke-width="1.8" />
<line x1="1217.5" y1="1041.1" x2="1217.5" y2="1034.7" stroke="#000" stroke-width="1.8" />
<line x1="1285.0" y1="1041.1" x2="1285.0" y2="1039.3" stroke="#000" stroke-width="1.8" />
<line x1="1352.4" y1="1041.1" x2="1352.4" y2="1034.7" stroke="#000" stroke-width="1.8" />
<line x1="1419.9" y1="1041.1" x2="1419.9" y2="1039.3" stroke="#000" stroke-width="1.8" />
<line x1="1487.3" y1="1041.1" x2="1487.3" y2="1034.7" stroke="#000" stroke-width="1.8" />
<line x1="1554.8" y1="1041.1" x2="1554.8" y2="1039.3" stroke="#000" stroke-width="1.8" />
<rect x="949.8" y="546.2" width="233.0" height="80.8" fill="#d3d3d3"/>
<text x="977.8" y="602.0" font-size="43" text-anchor="start" fill="#000" >D=350nm</text>
<path d="M994.9,654.0 L1003.9,669.0 L985.9,669.0 Z" fill="rgba(0,0,255,0.69)"/>
<circle cx="994.9" cy="715.3" r="7.7" fill="rgba(128,128,0,0.58)"/>
<text x="1051.7" y="678.1" font-size="43" text-anchor="start" fill="#000" >Sim</text>
<text x="1052.4" y="729.8" font-size="43" text-anchor="start" fill="#000" >Exp</text>
<path d="M992.2,965.7 L1000.9,980.3 L983.5,980.3 Z" fill="rgba(0,0,255,0.69)"/>
<circle cx="992.2" cy="859.6" r="7.6" fill="rgba(128,128,0,0.58)"/>
<path d="M1104.2,914.7 L1112.9,929.3 L1095.5,929.3 Z" fill="rgba(0,0,255,0.69)"/>
<circle cx="1104.2" cy="808.7" r="7.6" fill="rgba(128,128,0,0.58)"/>
<path d="M1224.2,854.5 L1232.9,869.1 L1215.5,869.1 Z" fill="rgba(0,0,255,0.69)"/>
<circle cx="1224.2" cy="751.0" r="7.6" fill="rgba(128,128,0,0.58)"/>
<path d="M1353.7,784.0 L1362.4,798.6 L1345.0,798.6 Z" fill="rgba(0,0,255,0.69)"/>
<circle cx="1353.7" cy="686.9" r="7.6" fill="rgba(128,128,0,0.58)"/>
<path d="M1475.2,722.0 L1483.9,736.6 L1466.5,736.6 Z" fill="rgba(0,0,255,0.69)"/>
<circle cx="1475.2" cy="629.1" r="7.6" fill="rgba(128,128,0,0.58)"/>
<path d="M1603.3,659.2 L1612.0,673.8 L1594.6,673.8 Z" fill="rgba(0,0,255,0.69)"/>
<circle cx="1603.3" cy="571.0" r="7.6" fill="rgba(128,128,0,0.58)"/>
<line x1="992.2" y1="858.4" x2="1603.5" y2="571.8" stroke="rgba(128,128,0,0.72)" stroke-width="2.1" />
<line x1="992.2" y1="975.1" x2="1603.5" y2="669.5" stroke="rgba(0,0,255,0.85)" stroke-width="2.1" />
<text transform="translate(1277.3,677.0) rotate(-25.5)" font-size="39.4" text-anchor="middle" dominant-baseline="central" fill="#a8a852">396nm/RIU</text>
<text transform="translate(1277.2,883.3) rotate(-26.0)" font-size="39.4" text-anchor="middle" dominant-baseline="central" fill="#3d3dff">422nm/RIU</text>
<path d="M948.0,1043.0 V543.0 H1622.4 V1043.0" fill="none" stroke="#000" stroke-width="1.9" stroke-linejoin="round"/>
<line x1="948.0" y1="1464.5" x2="958.7" y2="1464.5" stroke="#000" stroke-width="1.8" />
<text x="937.5" y="1473.5" font-size="29" text-anchor="end" fill="#000" >600</text>
<line x1="948.0" y1="1302.8" x2="958.7" y2="1302.8" stroke="#000" stroke-width="1.8" />
<text x="937.5" y="1311.8" font-size="29" text-anchor="end" fill="#000" >610</text>
<line x1="948.0" y1="1141.0" x2="958.7" y2="1141.0" stroke="#000" stroke-width="1.8" />
<text x="937.5" y="1150.0" font-size="29" text-anchor="end" fill="#000" >620</text>
<line x1="948.0" y1="1383.6" x2="953.2" y2="1383.6" stroke="#000" stroke-width="1.8" />
<line x1="948.0" y1="1221.9" x2="953.2" y2="1221.9" stroke="#000" stroke-width="1.8" />
<line x1="948.0" y1="1060.1" x2="953.2" y2="1060.1" stroke="#000" stroke-width="1.8" />
<line x1="1015.2" y1="1546.0" x2="1015.2" y2="1541.0" stroke="#000" stroke-width="1.8" />
<line x1="1082.6" y1="1546.0" x2="1082.6" y2="1536.5" stroke="#000" stroke-width="1.8" />
<line x1="1150.1" y1="1546.0" x2="1150.1" y2="1541.0" stroke="#000" stroke-width="1.8" />
<line x1="1217.5" y1="1546.0" x2="1217.5" y2="1536.5" stroke="#000" stroke-width="1.8" />
<line x1="1285.0" y1="1546.0" x2="1285.0" y2="1541.0" stroke="#000" stroke-width="1.8" />
<line x1="1352.4" y1="1546.0" x2="1352.4" y2="1536.5" stroke="#000" stroke-width="1.8" />
<line x1="1419.9" y1="1546.0" x2="1419.9" y2="1541.0" stroke="#000" stroke-width="1.8" />
<line x1="1487.3" y1="1546.0" x2="1487.3" y2="1536.5" stroke="#000" stroke-width="1.8" />
<line x1="1554.8" y1="1546.0" x2="1554.8" y2="1541.0" stroke="#000" stroke-width="1.8" />
<rect x="951.9" y="1046.4" width="233.5" height="78.5" fill="#d3d3d3"/>
<text x="979.0" y="1100.8" font-size="43" text-anchor="start" fill="#000" >D=440nm</text>
<path d="M994.9,1155.0 L1003.9,1170.0 L985.9,1170.0 Z" fill="rgba(0,0,255,0.69)"/>
<circle cx="994.9" cy="1216.3" r="7.7" fill="rgba(128,128,0,0.58)"/>
<text x="1051.7" y="1179.1" font-size="43" text-anchor="start" fill="#000" >Sim</text>
<text x="1052.4" y="1230.8" font-size="43" text-anchor="start" fill="#000" >Exp</text>
<path d="M992.2,1449.6 L1000.9,1464.2 L983.5,1464.2 Z" fill="rgba(0,0,255,0.69)"/>
<circle cx="992.2" cy="1361.3" r="7.6" fill="rgba(128,128,0,0.58)"/>
<path d="M1104.2,1384.2 L1112.9,1398.8 L1095.5,1398.8 Z" fill="rgba(0,0,255,0.69)"/>
<circle cx="1104.2" cy="1332.5" r="7.6" fill="rgba(128,128,0,0.58)"/>
<path d="M1224.2,1318.0 L1232.9,1332.6 L1215.5,1332.6 Z" fill="rgba(0,0,255,0.69)"/>
<circle cx="1224.2" cy="1274.7" r="7.6" fill="rgba(128,128,0,0.58)"/>
<path d="M1353.7,1250.0 L1362.4,1264.6 L1345.0,1264.6 Z" fill="rgba(0,0,255,0.69)"/>
<circle cx="1353.7" cy="1202.2" r="7.6" fill="rgba(128,128,0,0.58)"/>
<path d="M1475.2,1182.1 L1483.9,1196.7 L1466.5,1196.7 Z" fill="rgba(0,0,255,0.69)"/>
<circle cx="1475.2" cy="1138.1" r="7.6" fill="rgba(128,128,0,0.58)"/>
<path d="M1603.3,1112.5 L1612.0,1127.1 L1594.6,1127.1 Z" fill="rgba(0,0,255,0.69)"/>
<circle cx="1603.3" cy="1072.7" r="7.6" fill="rgba(128,128,0,0.58)"/>
<line x1="992.2" y1="1377.5" x2="1603.5" y2="1079.0" stroke="rgba(128,128,0,0.72)" stroke-width="2.1" />
<line x1="992.2" y1="1453.9" x2="1603.5" y2="1122.0" stroke="rgba(0,0,255,0.85)" stroke-width="2.1" />
<text transform="translate(1276.6,1193.8) rotate(-25.4)" font-size="39.4" text-anchor="middle" dominant-baseline="central" fill="#a8a852">407nm/RIU</text>
<text transform="translate(1284.4,1342.6) rotate(-28.0)" font-size="39.4" text-anchor="middle" dominant-baseline="central" fill="#3d3dff">456nm/RIU</text>
<path d="M948.0,1546.0 V1043.0 H1622.4 V1546.0" fill="none" stroke="#000" stroke-width="1.9" stroke-linejoin="round"/>
<path d="M948.0,1541.0 V1546.0 H1622.4 V1541.0" fill="none" stroke="#000" stroke-width="1.9" stroke-linejoin="round"/>
<rect x="1394" y="618.9" width="3.6" height="1.6" fill="#555"/>
<rect x="1393.8" y="1123" width="3.4" height="1.7" fill="#666"/>
<text x="947.7" y="1578.6" font-size="29" text-anchor="middle" fill="#000" >1.33</text>
<text x="1082.6" y="1578.6" font-size="29" text-anchor="middle" fill="#000" >1.34</text>
<text x="1217.5" y="1578.6" font-size="29" text-anchor="middle" fill="#000" >1.35</text>
<text x="1352.4" y="1578.6" font-size="29" text-anchor="middle" fill="#000" >1.36</text>
<text x="1487.3" y="1578.6" font-size="29" text-anchor="middle" fill="#000" >1.37</text>
<text x="1622.2" y="1578.6" font-size="29" text-anchor="middle" fill="#000" >1.38</text>
<text x="1285.0" y="1629.0" font-size="33" text-anchor="middle" fill="#000" >Refractive Index</text>
<text transform="translate(868.6,298.0) rotate(-90)" font-size="33" text-anchor="middle">Wavelength (nm)</text>
<text transform="translate(868.6,804.0) rotate(-90)" font-size="33" text-anchor="middle">Wavelength (nm)</text>
<text transform="translate(868.6,1307.2) rotate(-90)" font-size="33" text-anchor="middle">Wavelength (nm)</text>
</svg>
</body></html>
